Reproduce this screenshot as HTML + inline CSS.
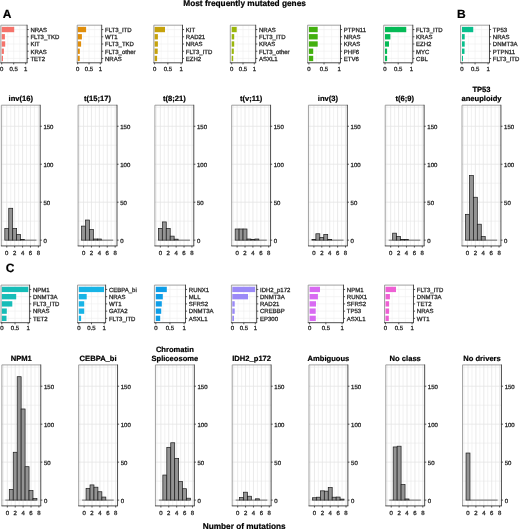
<!DOCTYPE html>
<html><head><meta charset="utf-8"><title>Most frequently mutated genes</title>
<style>html,body{margin:0;padding:0;background:#fff;width:520px;height:529px;overflow:hidden}svg{display:block;will-change:transform}text{text-rendering:geometricPrecision}</style>
</head><body>
<svg width="520" height="529" viewBox="0 0 520 529" font-family='"Liberation Sans", sans-serif'>
<rect x="0" y="0" width="520" height="529" fill="#ffffff"/>
<text x="244.6" y="5.7" font-size="8.3" text-anchor="middle" font-weight="bold" fill="#000" stroke="#000" stroke-width="0.2">Most frequently mutated genes</text>
<text x="2.7" y="18.3" font-size="12" text-anchor="start" font-weight="bold" fill="#000" stroke="#000" stroke-width="0.2">A</text>
<text x="456.9" y="18.3" font-size="12" text-anchor="start" font-weight="bold" fill="#000" stroke="#000" stroke-width="0.2">B</text>
<text x="5.7" y="272.1" font-size="12" text-anchor="start" font-weight="bold" fill="#000" stroke="#000" stroke-width="0.2">C</text>
<line x1="7.7" y1="25.2" x2="7.7" y2="62.8" stroke="#EEEEEE" stroke-width="0.4"/>
<line x1="19.7" y1="25.2" x2="19.7" y2="62.8" stroke="#EEEEEE" stroke-width="0.4"/>
<line x1="1.7" y1="25.2" x2="1.7" y2="62.8" stroke="#EEEEEE" stroke-width="0.6"/>
<line x1="13.7" y1="25.2" x2="13.7" y2="62.8" stroke="#EEEEEE" stroke-width="0.6"/>
<line x1="25.7" y1="25.2" x2="25.7" y2="62.8" stroke="#EEEEEE" stroke-width="0.6"/>
<line x1="0.8" y1="29.54" x2="27.1" y2="29.54" stroke="#EEEEEE" stroke-width="0.6"/>
<line x1="0.8" y1="36.77" x2="27.1" y2="36.77" stroke="#EEEEEE" stroke-width="0.6"/>
<line x1="0.8" y1="44" x2="27.1" y2="44" stroke="#EEEEEE" stroke-width="0.6"/>
<line x1="0.8" y1="51.23" x2="27.1" y2="51.23" stroke="#EEEEEE" stroke-width="0.6"/>
<line x1="0.8" y1="58.46" x2="27.1" y2="58.46" stroke="#EEEEEE" stroke-width="0.6"/>
<rect x="1.7" y="26.86" width="12.5" height="5.35" fill="#F5736B"/>
<rect x="1.7" y="34.09" width="3.2" height="5.35" fill="#F5736B"/>
<rect x="1.7" y="41.32" width="3.5" height="5.35" fill="#F5736B"/>
<rect x="1.7" y="48.56" width="2.2" height="5.35" fill="#F5736B"/>
<rect x="1.7" y="55.79" width="1.3" height="5.35" fill="#F5736B"/>
<line x1="0.8" y1="25.2" x2="27.1" y2="25.2" stroke="#8a8a8a" stroke-width="0.8"/>
<line x1="0.8" y1="25.2" x2="0.8" y2="62.8" stroke="#8a8a8a" stroke-width="0.8"/>
<line x1="0.4" y1="62.8" x2="27.5" y2="62.8" stroke="#222222" stroke-width="0.8"/>
<line x1="27.1" y1="24.8" x2="27.1" y2="62.8" stroke="#222222" stroke-width="0.8"/>
<line x1="27.1" y1="29.54" x2="28.7" y2="29.54" stroke="#222222" stroke-width="0.75"/>
<text x="30.4" y="31.84" font-size="6" text-anchor="start" font-weight="normal" fill="#2e2e2e" stroke="#2e2e2e" stroke-width="0.3">NRAS</text>
<line x1="27.1" y1="36.77" x2="28.7" y2="36.77" stroke="#222222" stroke-width="0.75"/>
<text x="30.4" y="39.07" font-size="6" text-anchor="start" font-weight="normal" fill="#2e2e2e" stroke="#2e2e2e" stroke-width="0.3">FLT3_TKD</text>
<line x1="27.1" y1="44" x2="28.7" y2="44" stroke="#222222" stroke-width="0.75"/>
<text x="30.4" y="46.3" font-size="6" text-anchor="start" font-weight="normal" fill="#2e2e2e" stroke="#2e2e2e" stroke-width="0.3">KIT</text>
<line x1="27.1" y1="51.23" x2="28.7" y2="51.23" stroke="#222222" stroke-width="0.75"/>
<text x="30.4" y="53.53" font-size="6" text-anchor="start" font-weight="normal" fill="#2e2e2e" stroke="#2e2e2e" stroke-width="0.3">KRAS</text>
<line x1="27.1" y1="58.46" x2="28.7" y2="58.46" stroke="#222222" stroke-width="0.75"/>
<text x="30.4" y="60.76" font-size="6" text-anchor="start" font-weight="normal" fill="#2e2e2e" stroke="#2e2e2e" stroke-width="0.3">TET2</text>
<line x1="1.7" y1="62.8" x2="1.7" y2="64.4" stroke="#222222" stroke-width="0.75"/>
<text x="1.7" y="70.5" font-size="6" text-anchor="middle" font-weight="normal" fill="#2e2e2e" stroke="#2e2e2e" stroke-width="0.3">0</text>
<line x1="13.7" y1="62.8" x2="13.7" y2="64.4" stroke="#222222" stroke-width="0.75"/>
<text x="13.7" y="70.5" font-size="6" text-anchor="middle" font-weight="normal" fill="#2e2e2e" stroke="#2e2e2e" stroke-width="0.3">0.5</text>
<line x1="25.7" y1="62.8" x2="25.7" y2="64.4" stroke="#222222" stroke-width="0.75"/>
<text x="25.7" y="70.5" font-size="6" text-anchor="middle" font-weight="normal" fill="#2e2e2e" stroke="#2e2e2e" stroke-width="0.3">1</text>
<line x1="83.35" y1="25.2" x2="83.35" y2="62.8" stroke="#EEEEEE" stroke-width="0.4"/>
<line x1="94.65" y1="25.2" x2="94.65" y2="62.8" stroke="#EEEEEE" stroke-width="0.4"/>
<line x1="77.7" y1="25.2" x2="77.7" y2="62.8" stroke="#EEEEEE" stroke-width="0.6"/>
<line x1="89" y1="25.2" x2="89" y2="62.8" stroke="#EEEEEE" stroke-width="0.6"/>
<line x1="100.3" y1="25.2" x2="100.3" y2="62.8" stroke="#EEEEEE" stroke-width="0.6"/>
<line x1="77.2" y1="29.54" x2="101.7" y2="29.54" stroke="#EEEEEE" stroke-width="0.6"/>
<line x1="77.2" y1="36.77" x2="101.7" y2="36.77" stroke="#EEEEEE" stroke-width="0.6"/>
<line x1="77.2" y1="44" x2="101.7" y2="44" stroke="#EEEEEE" stroke-width="0.6"/>
<line x1="77.2" y1="51.23" x2="101.7" y2="51.23" stroke="#EEEEEE" stroke-width="0.6"/>
<line x1="77.2" y1="58.46" x2="101.7" y2="58.46" stroke="#EEEEEE" stroke-width="0.6"/>
<rect x="77.7" y="26.86" width="8.4" height="5.35" fill="#E08E0B"/>
<rect x="77.7" y="34.09" width="4.2" height="5.35" fill="#E08E0B"/>
<rect x="77.7" y="41.32" width="3.4" height="5.35" fill="#E08E0B"/>
<rect x="77.7" y="48.56" width="2.1" height="5.35" fill="#E08E0B"/>
<rect x="77.7" y="55.79" width="2" height="5.35" fill="#E08E0B"/>
<line x1="77.2" y1="25.2" x2="101.7" y2="25.2" stroke="#8a8a8a" stroke-width="0.8"/>
<line x1="77.2" y1="25.2" x2="77.2" y2="62.8" stroke="#8a8a8a" stroke-width="0.8"/>
<line x1="76.8" y1="62.8" x2="102.1" y2="62.8" stroke="#222222" stroke-width="0.8"/>
<line x1="101.7" y1="24.8" x2="101.7" y2="62.8" stroke="#222222" stroke-width="0.8"/>
<line x1="101.7" y1="29.54" x2="103.3" y2="29.54" stroke="#222222" stroke-width="0.75"/>
<text x="105" y="31.84" font-size="6" text-anchor="start" font-weight="normal" fill="#2e2e2e" stroke="#2e2e2e" stroke-width="0.3">FLT3_ITD</text>
<line x1="101.7" y1="36.77" x2="103.3" y2="36.77" stroke="#222222" stroke-width="0.75"/>
<text x="105" y="39.07" font-size="6" text-anchor="start" font-weight="normal" fill="#2e2e2e" stroke="#2e2e2e" stroke-width="0.3">WT1</text>
<line x1="101.7" y1="44" x2="103.3" y2="44" stroke="#222222" stroke-width="0.75"/>
<text x="105" y="46.3" font-size="6" text-anchor="start" font-weight="normal" fill="#2e2e2e" stroke="#2e2e2e" stroke-width="0.3">FLT3_TKD</text>
<line x1="101.7" y1="51.23" x2="103.3" y2="51.23" stroke="#222222" stroke-width="0.75"/>
<text x="105" y="53.53" font-size="6" text-anchor="start" font-weight="normal" fill="#2e2e2e" stroke="#2e2e2e" stroke-width="0.3">FLT3_other</text>
<line x1="101.7" y1="58.46" x2="103.3" y2="58.46" stroke="#222222" stroke-width="0.75"/>
<text x="105" y="60.76" font-size="6" text-anchor="start" font-weight="normal" fill="#2e2e2e" stroke="#2e2e2e" stroke-width="0.3">NRAS</text>
<line x1="77.7" y1="62.8" x2="77.7" y2="64.4" stroke="#222222" stroke-width="0.75"/>
<text x="77.7" y="70.5" font-size="6" text-anchor="middle" font-weight="normal" fill="#2e2e2e" stroke="#2e2e2e" stroke-width="0.3">0</text>
<line x1="89" y1="62.8" x2="89" y2="64.4" stroke="#222222" stroke-width="0.75"/>
<text x="89" y="70.5" font-size="6" text-anchor="middle" font-weight="normal" fill="#2e2e2e" stroke="#2e2e2e" stroke-width="0.3">0.5</text>
<line x1="100.3" y1="62.8" x2="100.3" y2="64.4" stroke="#222222" stroke-width="0.75"/>
<text x="100.3" y="70.5" font-size="6" text-anchor="middle" font-weight="normal" fill="#2e2e2e" stroke="#2e2e2e" stroke-width="0.3">1</text>
<line x1="161.22" y1="25.2" x2="161.22" y2="62.8" stroke="#EEEEEE" stroke-width="0.4"/>
<line x1="174.47" y1="25.2" x2="174.47" y2="62.8" stroke="#EEEEEE" stroke-width="0.4"/>
<line x1="154.6" y1="25.2" x2="154.6" y2="62.8" stroke="#EEEEEE" stroke-width="0.6"/>
<line x1="167.85" y1="25.2" x2="167.85" y2="62.8" stroke="#EEEEEE" stroke-width="0.6"/>
<line x1="181.1" y1="25.2" x2="181.1" y2="62.8" stroke="#EEEEEE" stroke-width="0.6"/>
<line x1="153.8" y1="29.54" x2="182.5" y2="29.54" stroke="#EEEEEE" stroke-width="0.6"/>
<line x1="153.8" y1="36.77" x2="182.5" y2="36.77" stroke="#EEEEEE" stroke-width="0.6"/>
<line x1="153.8" y1="44" x2="182.5" y2="44" stroke="#EEEEEE" stroke-width="0.6"/>
<line x1="153.8" y1="51.23" x2="182.5" y2="51.23" stroke="#EEEEEE" stroke-width="0.6"/>
<line x1="153.8" y1="58.46" x2="182.5" y2="58.46" stroke="#EEEEEE" stroke-width="0.6"/>
<rect x="154.6" y="26.86" width="10.4" height="5.35" fill="#C6A20C"/>
<rect x="154.6" y="34.09" width="3.3" height="5.35" fill="#C6A20C"/>
<rect x="154.6" y="41.32" width="3.3" height="5.35" fill="#C6A20C"/>
<rect x="154.6" y="48.56" width="3.1" height="5.35" fill="#C6A20C"/>
<rect x="154.6" y="55.79" width="2.5" height="5.35" fill="#C6A20C"/>
<line x1="153.8" y1="25.2" x2="182.5" y2="25.2" stroke="#8a8a8a" stroke-width="0.8"/>
<line x1="153.8" y1="25.2" x2="153.8" y2="62.8" stroke="#8a8a8a" stroke-width="0.8"/>
<line x1="153.4" y1="62.8" x2="182.9" y2="62.8" stroke="#222222" stroke-width="0.8"/>
<line x1="182.5" y1="24.8" x2="182.5" y2="62.8" stroke="#222222" stroke-width="0.8"/>
<line x1="182.5" y1="29.54" x2="184.1" y2="29.54" stroke="#222222" stroke-width="0.75"/>
<text x="185.8" y="31.84" font-size="6" text-anchor="start" font-weight="normal" fill="#2e2e2e" stroke="#2e2e2e" stroke-width="0.3">KIT</text>
<line x1="182.5" y1="36.77" x2="184.1" y2="36.77" stroke="#222222" stroke-width="0.75"/>
<text x="185.8" y="39.07" font-size="6" text-anchor="start" font-weight="normal" fill="#2e2e2e" stroke="#2e2e2e" stroke-width="0.3">RAD21</text>
<line x1="182.5" y1="44" x2="184.1" y2="44" stroke="#222222" stroke-width="0.75"/>
<text x="185.8" y="46.3" font-size="6" text-anchor="start" font-weight="normal" fill="#2e2e2e" stroke="#2e2e2e" stroke-width="0.3">NRAS</text>
<line x1="182.5" y1="51.23" x2="184.1" y2="51.23" stroke="#222222" stroke-width="0.75"/>
<text x="185.8" y="53.53" font-size="6" text-anchor="start" font-weight="normal" fill="#2e2e2e" stroke="#2e2e2e" stroke-width="0.3">FLT3_ITD</text>
<line x1="182.5" y1="58.46" x2="184.1" y2="58.46" stroke="#222222" stroke-width="0.75"/>
<text x="185.8" y="60.76" font-size="6" text-anchor="start" font-weight="normal" fill="#2e2e2e" stroke="#2e2e2e" stroke-width="0.3">EZH2</text>
<line x1="154.6" y1="62.8" x2="154.6" y2="64.4" stroke="#222222" stroke-width="0.75"/>
<text x="154.6" y="70.5" font-size="6" text-anchor="middle" font-weight="normal" fill="#2e2e2e" stroke="#2e2e2e" stroke-width="0.3">0</text>
<line x1="167.85" y1="62.8" x2="167.85" y2="64.4" stroke="#222222" stroke-width="0.75"/>
<text x="167.85" y="70.5" font-size="6" text-anchor="middle" font-weight="normal" fill="#2e2e2e" stroke="#2e2e2e" stroke-width="0.3">0.5</text>
<line x1="181.1" y1="62.8" x2="181.1" y2="64.4" stroke="#222222" stroke-width="0.75"/>
<text x="181.1" y="70.5" font-size="6" text-anchor="middle" font-weight="normal" fill="#2e2e2e" stroke="#2e2e2e" stroke-width="0.3">1</text>
<line x1="237.35" y1="25.2" x2="237.35" y2="62.8" stroke="#EEEEEE" stroke-width="0.4"/>
<line x1="248.65" y1="25.2" x2="248.65" y2="62.8" stroke="#EEEEEE" stroke-width="0.4"/>
<line x1="231.7" y1="25.2" x2="231.7" y2="62.8" stroke="#EEEEEE" stroke-width="0.6"/>
<line x1="243" y1="25.2" x2="243" y2="62.8" stroke="#EEEEEE" stroke-width="0.6"/>
<line x1="254.3" y1="25.2" x2="254.3" y2="62.8" stroke="#EEEEEE" stroke-width="0.6"/>
<line x1="230.3" y1="29.54" x2="255.7" y2="29.54" stroke="#EEEEEE" stroke-width="0.6"/>
<line x1="230.3" y1="36.77" x2="255.7" y2="36.77" stroke="#EEEEEE" stroke-width="0.6"/>
<line x1="230.3" y1="44" x2="255.7" y2="44" stroke="#EEEEEE" stroke-width="0.6"/>
<line x1="230.3" y1="51.23" x2="255.7" y2="51.23" stroke="#EEEEEE" stroke-width="0.6"/>
<line x1="230.3" y1="58.46" x2="255.7" y2="58.46" stroke="#EEEEEE" stroke-width="0.6"/>
<rect x="231.7" y="26.86" width="5" height="5.35" fill="#9AB60A"/>
<rect x="231.7" y="34.09" width="2.5" height="5.35" fill="#9AB60A"/>
<rect x="231.7" y="41.32" width="2.5" height="5.35" fill="#9AB60A"/>
<rect x="231.7" y="48.56" width="2.1" height="5.35" fill="#9AB60A"/>
<rect x="231.7" y="55.79" width="1.5" height="5.35" fill="#9AB60A"/>
<line x1="230.3" y1="25.2" x2="255.7" y2="25.2" stroke="#8a8a8a" stroke-width="0.8"/>
<line x1="230.3" y1="25.2" x2="230.3" y2="62.8" stroke="#8a8a8a" stroke-width="0.8"/>
<line x1="229.9" y1="62.8" x2="256.1" y2="62.8" stroke="#222222" stroke-width="0.8"/>
<line x1="255.7" y1="24.8" x2="255.7" y2="62.8" stroke="#222222" stroke-width="0.8"/>
<line x1="255.7" y1="29.54" x2="257.3" y2="29.54" stroke="#222222" stroke-width="0.75"/>
<text x="259" y="31.84" font-size="6" text-anchor="start" font-weight="normal" fill="#2e2e2e" stroke="#2e2e2e" stroke-width="0.3">NRAS</text>
<line x1="255.7" y1="36.77" x2="257.3" y2="36.77" stroke="#222222" stroke-width="0.75"/>
<text x="259" y="39.07" font-size="6" text-anchor="start" font-weight="normal" fill="#2e2e2e" stroke="#2e2e2e" stroke-width="0.3">FLT3_ITD</text>
<line x1="255.7" y1="44" x2="257.3" y2="44" stroke="#222222" stroke-width="0.75"/>
<text x="259" y="46.3" font-size="6" text-anchor="start" font-weight="normal" fill="#2e2e2e" stroke="#2e2e2e" stroke-width="0.3">KRAS</text>
<line x1="255.7" y1="51.23" x2="257.3" y2="51.23" stroke="#222222" stroke-width="0.75"/>
<text x="259" y="53.53" font-size="6" text-anchor="start" font-weight="normal" fill="#2e2e2e" stroke="#2e2e2e" stroke-width="0.3">FLT3_other</text>
<line x1="255.7" y1="58.46" x2="257.3" y2="58.46" stroke="#222222" stroke-width="0.75"/>
<text x="259" y="60.76" font-size="6" text-anchor="start" font-weight="normal" fill="#2e2e2e" stroke="#2e2e2e" stroke-width="0.3">ASXL1</text>
<line x1="231.7" y1="62.8" x2="231.7" y2="64.4" stroke="#222222" stroke-width="0.75"/>
<text x="231.7" y="70.5" font-size="6" text-anchor="middle" font-weight="normal" fill="#2e2e2e" stroke="#2e2e2e" stroke-width="0.3">0</text>
<line x1="243" y1="62.8" x2="243" y2="64.4" stroke="#222222" stroke-width="0.75"/>
<text x="243" y="70.5" font-size="6" text-anchor="middle" font-weight="normal" fill="#2e2e2e" stroke="#2e2e2e" stroke-width="0.3">0.5</text>
<line x1="254.3" y1="62.8" x2="254.3" y2="64.4" stroke="#222222" stroke-width="0.75"/>
<text x="254.3" y="70.5" font-size="6" text-anchor="middle" font-weight="normal" fill="#2e2e2e" stroke="#2e2e2e" stroke-width="0.3">1</text>
<line x1="316.45" y1="25.2" x2="316.45" y2="62.8" stroke="#EEEEEE" stroke-width="0.4"/>
<line x1="331.55" y1="25.2" x2="331.55" y2="62.8" stroke="#EEEEEE" stroke-width="0.4"/>
<line x1="308.9" y1="25.2" x2="308.9" y2="62.8" stroke="#EEEEEE" stroke-width="0.6"/>
<line x1="324" y1="25.2" x2="324" y2="62.8" stroke="#EEEEEE" stroke-width="0.6"/>
<line x1="339.1" y1="25.2" x2="339.1" y2="62.8" stroke="#EEEEEE" stroke-width="0.6"/>
<line x1="307.6" y1="29.54" x2="340.5" y2="29.54" stroke="#EEEEEE" stroke-width="0.6"/>
<line x1="307.6" y1="36.77" x2="340.5" y2="36.77" stroke="#EEEEEE" stroke-width="0.6"/>
<line x1="307.6" y1="44" x2="340.5" y2="44" stroke="#EEEEEE" stroke-width="0.6"/>
<line x1="307.6" y1="51.23" x2="340.5" y2="51.23" stroke="#EEEEEE" stroke-width="0.6"/>
<line x1="307.6" y1="58.46" x2="340.5" y2="58.46" stroke="#EEEEEE" stroke-width="0.6"/>
<rect x="308.9" y="26.86" width="8.8" height="5.35" fill="#42B00E"/>
<rect x="308.9" y="34.09" width="8.8" height="5.35" fill="#42B00E"/>
<rect x="308.9" y="41.32" width="8.8" height="5.35" fill="#42B00E"/>
<rect x="308.9" y="48.56" width="4.3" height="5.35" fill="#42B00E"/>
<rect x="308.9" y="55.79" width="4.3" height="5.35" fill="#42B00E"/>
<line x1="307.6" y1="25.2" x2="340.5" y2="25.2" stroke="#8a8a8a" stroke-width="0.8"/>
<line x1="307.6" y1="25.2" x2="307.6" y2="62.8" stroke="#8a8a8a" stroke-width="0.8"/>
<line x1="307.2" y1="62.8" x2="340.9" y2="62.8" stroke="#222222" stroke-width="0.8"/>
<line x1="340.5" y1="24.8" x2="340.5" y2="62.8" stroke="#222222" stroke-width="0.8"/>
<line x1="340.5" y1="29.54" x2="342.1" y2="29.54" stroke="#222222" stroke-width="0.75"/>
<text x="343.8" y="31.84" font-size="6" text-anchor="start" font-weight="normal" fill="#2e2e2e" stroke="#2e2e2e" stroke-width="0.3">PTPN11</text>
<line x1="340.5" y1="36.77" x2="342.1" y2="36.77" stroke="#222222" stroke-width="0.75"/>
<text x="343.8" y="39.07" font-size="6" text-anchor="start" font-weight="normal" fill="#2e2e2e" stroke="#2e2e2e" stroke-width="0.3">NRAS</text>
<line x1="340.5" y1="44" x2="342.1" y2="44" stroke="#222222" stroke-width="0.75"/>
<text x="343.8" y="46.3" font-size="6" text-anchor="start" font-weight="normal" fill="#2e2e2e" stroke="#2e2e2e" stroke-width="0.3">KRAS</text>
<line x1="340.5" y1="51.23" x2="342.1" y2="51.23" stroke="#222222" stroke-width="0.75"/>
<text x="343.8" y="53.53" font-size="6" text-anchor="start" font-weight="normal" fill="#2e2e2e" stroke="#2e2e2e" stroke-width="0.3">PHF6</text>
<line x1="340.5" y1="58.46" x2="342.1" y2="58.46" stroke="#222222" stroke-width="0.75"/>
<text x="343.8" y="60.76" font-size="6" text-anchor="start" font-weight="normal" fill="#2e2e2e" stroke="#2e2e2e" stroke-width="0.3">ETV6</text>
<line x1="308.9" y1="62.8" x2="308.9" y2="64.4" stroke="#222222" stroke-width="0.75"/>
<text x="308.9" y="70.5" font-size="6" text-anchor="middle" font-weight="normal" fill="#2e2e2e" stroke="#2e2e2e" stroke-width="0.3">0</text>
<line x1="324" y1="62.8" x2="324" y2="64.4" stroke="#222222" stroke-width="0.75"/>
<text x="324" y="70.5" font-size="6" text-anchor="middle" font-weight="normal" fill="#2e2e2e" stroke="#2e2e2e" stroke-width="0.3">0.5</text>
<line x1="339.1" y1="62.8" x2="339.1" y2="64.4" stroke="#222222" stroke-width="0.75"/>
<text x="339.1" y="70.5" font-size="6" text-anchor="middle" font-weight="normal" fill="#2e2e2e" stroke="#2e2e2e" stroke-width="0.3">1</text>
<line x1="391.6" y1="25.2" x2="391.6" y2="62.8" stroke="#EEEEEE" stroke-width="0.4"/>
<line x1="404.8" y1="25.2" x2="404.8" y2="62.8" stroke="#EEEEEE" stroke-width="0.4"/>
<line x1="385" y1="25.2" x2="385" y2="62.8" stroke="#EEEEEE" stroke-width="0.6"/>
<line x1="398.2" y1="25.2" x2="398.2" y2="62.8" stroke="#EEEEEE" stroke-width="0.6"/>
<line x1="411.4" y1="25.2" x2="411.4" y2="62.8" stroke="#EEEEEE" stroke-width="0.6"/>
<line x1="383.7" y1="29.54" x2="412.8" y2="29.54" stroke="#EEEEEE" stroke-width="0.6"/>
<line x1="383.7" y1="36.77" x2="412.8" y2="36.77" stroke="#EEEEEE" stroke-width="0.6"/>
<line x1="383.7" y1="44" x2="412.8" y2="44" stroke="#EEEEEE" stroke-width="0.6"/>
<line x1="383.7" y1="51.23" x2="412.8" y2="51.23" stroke="#EEEEEE" stroke-width="0.6"/>
<line x1="383.7" y1="58.46" x2="412.8" y2="58.46" stroke="#EEEEEE" stroke-width="0.6"/>
<rect x="385" y="26.86" width="21.25" height="5.35" fill="#05BA56"/>
<rect x="385" y="34.09" width="5.4" height="5.35" fill="#05BA56"/>
<rect x="385" y="41.32" width="4" height="5.35" fill="#05BA56"/>
<rect x="385" y="48.56" width="2.1" height="5.35" fill="#05BA56"/>
<rect x="385" y="55.79" width="2.1" height="5.35" fill="#05BA56"/>
<line x1="383.7" y1="25.2" x2="412.8" y2="25.2" stroke="#8a8a8a" stroke-width="0.8"/>
<line x1="383.7" y1="25.2" x2="383.7" y2="62.8" stroke="#8a8a8a" stroke-width="0.8"/>
<line x1="383.3" y1="62.8" x2="413.2" y2="62.8" stroke="#222222" stroke-width="0.8"/>
<line x1="412.8" y1="24.8" x2="412.8" y2="62.8" stroke="#222222" stroke-width="0.8"/>
<line x1="412.8" y1="29.54" x2="414.4" y2="29.54" stroke="#222222" stroke-width="0.75"/>
<text x="416.1" y="31.84" font-size="6" text-anchor="start" font-weight="normal" fill="#2e2e2e" stroke="#2e2e2e" stroke-width="0.3">FLT3_ITD</text>
<line x1="412.8" y1="36.77" x2="414.4" y2="36.77" stroke="#222222" stroke-width="0.75"/>
<text x="416.1" y="39.07" font-size="6" text-anchor="start" font-weight="normal" fill="#2e2e2e" stroke="#2e2e2e" stroke-width="0.3">KRAS</text>
<line x1="412.8" y1="44" x2="414.4" y2="44" stroke="#222222" stroke-width="0.75"/>
<text x="416.1" y="46.3" font-size="6" text-anchor="start" font-weight="normal" fill="#2e2e2e" stroke="#2e2e2e" stroke-width="0.3">EZH2</text>
<line x1="412.8" y1="51.23" x2="414.4" y2="51.23" stroke="#222222" stroke-width="0.75"/>
<text x="416.1" y="53.53" font-size="6" text-anchor="start" font-weight="normal" fill="#2e2e2e" stroke="#2e2e2e" stroke-width="0.3">MYC</text>
<line x1="412.8" y1="58.46" x2="414.4" y2="58.46" stroke="#222222" stroke-width="0.75"/>
<text x="416.1" y="60.76" font-size="6" text-anchor="start" font-weight="normal" fill="#2e2e2e" stroke="#2e2e2e" stroke-width="0.3">CBL</text>
<line x1="385" y1="62.8" x2="385" y2="64.4" stroke="#222222" stroke-width="0.75"/>
<text x="385" y="70.5" font-size="6" text-anchor="middle" font-weight="normal" fill="#2e2e2e" stroke="#2e2e2e" stroke-width="0.3">0</text>
<line x1="398.2" y1="62.8" x2="398.2" y2="64.4" stroke="#222222" stroke-width="0.75"/>
<text x="398.2" y="70.5" font-size="6" text-anchor="middle" font-weight="normal" fill="#2e2e2e" stroke="#2e2e2e" stroke-width="0.3">0.5</text>
<line x1="411.4" y1="62.8" x2="411.4" y2="64.4" stroke="#222222" stroke-width="0.75"/>
<text x="411.4" y="70.5" font-size="6" text-anchor="middle" font-weight="normal" fill="#2e2e2e" stroke="#2e2e2e" stroke-width="0.3">1</text>
<line x1="468.52" y1="25.2" x2="468.52" y2="62.8" stroke="#EEEEEE" stroke-width="0.4"/>
<line x1="481.58" y1="25.2" x2="481.58" y2="62.8" stroke="#EEEEEE" stroke-width="0.4"/>
<line x1="462" y1="25.2" x2="462" y2="62.8" stroke="#EEEEEE" stroke-width="0.6"/>
<line x1="475.05" y1="25.2" x2="475.05" y2="62.8" stroke="#EEEEEE" stroke-width="0.6"/>
<line x1="488.1" y1="25.2" x2="488.1" y2="62.8" stroke="#EEEEEE" stroke-width="0.6"/>
<line x1="460.6" y1="29.54" x2="489.5" y2="29.54" stroke="#EEEEEE" stroke-width="0.6"/>
<line x1="460.6" y1="36.77" x2="489.5" y2="36.77" stroke="#EEEEEE" stroke-width="0.6"/>
<line x1="460.6" y1="44" x2="489.5" y2="44" stroke="#EEEEEE" stroke-width="0.6"/>
<line x1="460.6" y1="51.23" x2="489.5" y2="51.23" stroke="#EEEEEE" stroke-width="0.6"/>
<line x1="460.6" y1="58.46" x2="489.5" y2="58.46" stroke="#EEEEEE" stroke-width="0.6"/>
<rect x="462" y="26.86" width="11.25" height="5.35" fill="#08BF8C"/>
<rect x="462" y="34.09" width="2.7" height="5.35" fill="#08BF8C"/>
<rect x="462" y="41.32" width="2.7" height="5.35" fill="#08BF8C"/>
<rect x="462" y="48.56" width="2.5" height="5.35" fill="#08BF8C"/>
<rect x="462" y="55.79" width="1" height="5.35" fill="#08BF8C"/>
<line x1="460.6" y1="25.2" x2="489.5" y2="25.2" stroke="#8a8a8a" stroke-width="0.8"/>
<line x1="460.6" y1="25.2" x2="460.6" y2="62.8" stroke="#8a8a8a" stroke-width="0.8"/>
<line x1="460.2" y1="62.8" x2="489.9" y2="62.8" stroke="#222222" stroke-width="0.8"/>
<line x1="489.5" y1="24.8" x2="489.5" y2="62.8" stroke="#222222" stroke-width="0.8"/>
<line x1="489.5" y1="29.54" x2="491.1" y2="29.54" stroke="#222222" stroke-width="0.75"/>
<text x="492.8" y="31.84" font-size="6" text-anchor="start" font-weight="normal" fill="#2e2e2e" stroke="#2e2e2e" stroke-width="0.3">TP53</text>
<line x1="489.5" y1="36.77" x2="491.1" y2="36.77" stroke="#222222" stroke-width="0.75"/>
<text x="492.8" y="39.07" font-size="6" text-anchor="start" font-weight="normal" fill="#2e2e2e" stroke="#2e2e2e" stroke-width="0.3">NRAS</text>
<line x1="489.5" y1="44" x2="491.1" y2="44" stroke="#222222" stroke-width="0.75"/>
<text x="492.8" y="46.3" font-size="6" text-anchor="start" font-weight="normal" fill="#2e2e2e" stroke="#2e2e2e" stroke-width="0.3">DNMT3A</text>
<line x1="489.5" y1="51.23" x2="491.1" y2="51.23" stroke="#222222" stroke-width="0.75"/>
<text x="492.8" y="53.53" font-size="6" text-anchor="start" font-weight="normal" fill="#2e2e2e" stroke="#2e2e2e" stroke-width="0.3">PTPN11</text>
<line x1="489.5" y1="58.46" x2="491.1" y2="58.46" stroke="#222222" stroke-width="0.75"/>
<text x="492.8" y="60.76" font-size="6" text-anchor="start" font-weight="normal" fill="#2e2e2e" stroke="#2e2e2e" stroke-width="0.3">FLT3_ITD</text>
<line x1="462" y1="62.8" x2="462" y2="64.4" stroke="#222222" stroke-width="0.75"/>
<text x="462" y="70.5" font-size="6" text-anchor="middle" font-weight="normal" fill="#2e2e2e" stroke="#2e2e2e" stroke-width="0.3">0</text>
<line x1="475.05" y1="62.8" x2="475.05" y2="64.4" stroke="#222222" stroke-width="0.75"/>
<text x="475.05" y="70.5" font-size="6" text-anchor="middle" font-weight="normal" fill="#2e2e2e" stroke="#2e2e2e" stroke-width="0.3">0.5</text>
<line x1="488.1" y1="62.8" x2="488.1" y2="64.4" stroke="#222222" stroke-width="0.75"/>
<text x="488.1" y="70.5" font-size="6" text-anchor="middle" font-weight="normal" fill="#2e2e2e" stroke="#2e2e2e" stroke-width="0.3">1</text>
<line x1="8.4" y1="285.1" x2="8.4" y2="322.7" stroke="#EEEEEE" stroke-width="0.4"/>
<line x1="21.6" y1="285.1" x2="21.6" y2="322.7" stroke="#EEEEEE" stroke-width="0.4"/>
<line x1="1.8" y1="285.1" x2="1.8" y2="322.7" stroke="#EEEEEE" stroke-width="0.6"/>
<line x1="15" y1="285.1" x2="15" y2="322.7" stroke="#EEEEEE" stroke-width="0.6"/>
<line x1="28.2" y1="285.1" x2="28.2" y2="322.7" stroke="#EEEEEE" stroke-width="0.6"/>
<line x1="1" y1="289.44" x2="29.6" y2="289.44" stroke="#EEEEEE" stroke-width="0.6"/>
<line x1="1" y1="296.67" x2="29.6" y2="296.67" stroke="#EEEEEE" stroke-width="0.6"/>
<line x1="1" y1="303.9" x2="29.6" y2="303.9" stroke="#EEEEEE" stroke-width="0.6"/>
<line x1="1" y1="311.13" x2="29.6" y2="311.13" stroke="#EEEEEE" stroke-width="0.6"/>
<line x1="1" y1="318.36" x2="29.6" y2="318.36" stroke="#EEEEEE" stroke-width="0.6"/>
<rect x="1.8" y="286.76" width="26.5" height="5.35" fill="#16BDB8"/>
<rect x="1.8" y="293.99" width="14.4" height="5.35" fill="#16BDB8"/>
<rect x="1.8" y="301.22" width="10.5" height="5.35" fill="#16BDB8"/>
<rect x="1.8" y="308.46" width="5" height="5.35" fill="#16BDB8"/>
<rect x="1.8" y="315.69" width="4.7" height="5.35" fill="#16BDB8"/>
<line x1="1" y1="285.1" x2="29.6" y2="285.1" stroke="#8a8a8a" stroke-width="0.8"/>
<line x1="1" y1="285.1" x2="1" y2="322.7" stroke="#8a8a8a" stroke-width="0.8"/>
<line x1="0.6" y1="322.7" x2="30" y2="322.7" stroke="#222222" stroke-width="0.8"/>
<line x1="29.6" y1="284.7" x2="29.6" y2="322.7" stroke="#222222" stroke-width="0.8"/>
<line x1="29.6" y1="289.44" x2="31.2" y2="289.44" stroke="#222222" stroke-width="0.75"/>
<text x="32.9" y="291.74" font-size="6" text-anchor="start" font-weight="normal" fill="#2e2e2e" stroke="#2e2e2e" stroke-width="0.3">NPM1</text>
<line x1="29.6" y1="296.67" x2="31.2" y2="296.67" stroke="#222222" stroke-width="0.75"/>
<text x="32.9" y="298.97" font-size="6" text-anchor="start" font-weight="normal" fill="#2e2e2e" stroke="#2e2e2e" stroke-width="0.3">DNMT3A</text>
<line x1="29.6" y1="303.9" x2="31.2" y2="303.9" stroke="#222222" stroke-width="0.75"/>
<text x="32.9" y="306.2" font-size="6" text-anchor="start" font-weight="normal" fill="#2e2e2e" stroke="#2e2e2e" stroke-width="0.3">FLT3_ITD</text>
<line x1="29.6" y1="311.13" x2="31.2" y2="311.13" stroke="#222222" stroke-width="0.75"/>
<text x="32.9" y="313.43" font-size="6" text-anchor="start" font-weight="normal" fill="#2e2e2e" stroke="#2e2e2e" stroke-width="0.3">NRAS</text>
<line x1="29.6" y1="318.36" x2="31.2" y2="318.36" stroke="#222222" stroke-width="0.75"/>
<text x="32.9" y="320.66" font-size="6" text-anchor="start" font-weight="normal" fill="#2e2e2e" stroke="#2e2e2e" stroke-width="0.3">TET2</text>
<line x1="1.8" y1="322.7" x2="1.8" y2="324.3" stroke="#222222" stroke-width="0.75"/>
<text x="1.8" y="330.4" font-size="6" text-anchor="middle" font-weight="normal" fill="#2e2e2e" stroke="#2e2e2e" stroke-width="0.3">0</text>
<line x1="15" y1="322.7" x2="15" y2="324.3" stroke="#222222" stroke-width="0.75"/>
<text x="15" y="330.4" font-size="6" text-anchor="middle" font-weight="normal" fill="#2e2e2e" stroke="#2e2e2e" stroke-width="0.3">0.5</text>
<line x1="28.2" y1="322.7" x2="28.2" y2="324.3" stroke="#222222" stroke-width="0.75"/>
<text x="28.2" y="330.4" font-size="6" text-anchor="middle" font-weight="normal" fill="#2e2e2e" stroke="#2e2e2e" stroke-width="0.3">1</text>
<line x1="85.15" y1="285.1" x2="85.15" y2="322.7" stroke="#EEEEEE" stroke-width="0.4"/>
<line x1="97.85" y1="285.1" x2="97.85" y2="322.7" stroke="#EEEEEE" stroke-width="0.4"/>
<line x1="78.8" y1="285.1" x2="78.8" y2="322.7" stroke="#EEEEEE" stroke-width="0.6"/>
<line x1="91.5" y1="285.1" x2="91.5" y2="322.7" stroke="#EEEEEE" stroke-width="0.6"/>
<line x1="104.2" y1="285.1" x2="104.2" y2="322.7" stroke="#EEEEEE" stroke-width="0.6"/>
<line x1="77.5" y1="289.44" x2="105.6" y2="289.44" stroke="#EEEEEE" stroke-width="0.6"/>
<line x1="77.5" y1="296.67" x2="105.6" y2="296.67" stroke="#EEEEEE" stroke-width="0.6"/>
<line x1="77.5" y1="303.9" x2="105.6" y2="303.9" stroke="#EEEEEE" stroke-width="0.6"/>
<line x1="77.5" y1="311.13" x2="105.6" y2="311.13" stroke="#EEEEEE" stroke-width="0.6"/>
<line x1="77.5" y1="318.36" x2="105.6" y2="318.36" stroke="#EEEEEE" stroke-width="0.6"/>
<rect x="78.8" y="286.76" width="25.2" height="5.35" fill="#18B4E6"/>
<rect x="78.8" y="293.99" width="7.9" height="5.35" fill="#18B4E6"/>
<rect x="78.8" y="301.22" width="5.4" height="5.35" fill="#18B4E6"/>
<rect x="78.8" y="308.46" width="5.4" height="5.35" fill="#18B4E6"/>
<rect x="78.8" y="315.69" width="2.3" height="5.35" fill="#18B4E6"/>
<line x1="77.5" y1="285.1" x2="105.6" y2="285.1" stroke="#8a8a8a" stroke-width="0.8"/>
<line x1="77.5" y1="285.1" x2="77.5" y2="322.7" stroke="#8a8a8a" stroke-width="0.8"/>
<line x1="77.1" y1="322.7" x2="106" y2="322.7" stroke="#222222" stroke-width="0.8"/>
<line x1="105.6" y1="284.7" x2="105.6" y2="322.7" stroke="#222222" stroke-width="0.8"/>
<line x1="105.6" y1="289.44" x2="107.2" y2="289.44" stroke="#222222" stroke-width="0.75"/>
<text x="108.9" y="291.74" font-size="6" text-anchor="start" font-weight="normal" fill="#2e2e2e" stroke="#2e2e2e" stroke-width="0.3">CEBPA_bi</text>
<line x1="105.6" y1="296.67" x2="107.2" y2="296.67" stroke="#222222" stroke-width="0.75"/>
<text x="108.9" y="298.97" font-size="6" text-anchor="start" font-weight="normal" fill="#2e2e2e" stroke="#2e2e2e" stroke-width="0.3">NRAS</text>
<line x1="105.6" y1="303.9" x2="107.2" y2="303.9" stroke="#222222" stroke-width="0.75"/>
<text x="108.9" y="306.2" font-size="6" text-anchor="start" font-weight="normal" fill="#2e2e2e" stroke="#2e2e2e" stroke-width="0.3">WT1</text>
<line x1="105.6" y1="311.13" x2="107.2" y2="311.13" stroke="#222222" stroke-width="0.75"/>
<text x="108.9" y="313.43" font-size="6" text-anchor="start" font-weight="normal" fill="#2e2e2e" stroke="#2e2e2e" stroke-width="0.3">GATA2</text>
<line x1="105.6" y1="318.36" x2="107.2" y2="318.36" stroke="#222222" stroke-width="0.75"/>
<text x="108.9" y="320.66" font-size="6" text-anchor="start" font-weight="normal" fill="#2e2e2e" stroke="#2e2e2e" stroke-width="0.3">FLT3_ITD</text>
<line x1="78.8" y1="322.7" x2="78.8" y2="324.3" stroke="#222222" stroke-width="0.75"/>
<text x="78.8" y="330.4" font-size="6" text-anchor="middle" font-weight="normal" fill="#2e2e2e" stroke="#2e2e2e" stroke-width="0.3">0</text>
<line x1="91.5" y1="322.7" x2="91.5" y2="324.3" stroke="#222222" stroke-width="0.75"/>
<text x="91.5" y="330.4" font-size="6" text-anchor="middle" font-weight="normal" fill="#2e2e2e" stroke="#2e2e2e" stroke-width="0.3">0.5</text>
<line x1="104.2" y1="322.7" x2="104.2" y2="324.3" stroke="#222222" stroke-width="0.75"/>
<text x="104.2" y="330.4" font-size="6" text-anchor="middle" font-weight="normal" fill="#2e2e2e" stroke="#2e2e2e" stroke-width="0.3">1</text>
<line x1="162.88" y1="285.1" x2="162.88" y2="322.7" stroke="#EEEEEE" stroke-width="0.4"/>
<line x1="177.03" y1="285.1" x2="177.03" y2="322.7" stroke="#EEEEEE" stroke-width="0.4"/>
<line x1="155.8" y1="285.1" x2="155.8" y2="322.7" stroke="#EEEEEE" stroke-width="0.6"/>
<line x1="169.95" y1="285.1" x2="169.95" y2="322.7" stroke="#EEEEEE" stroke-width="0.6"/>
<line x1="184.1" y1="285.1" x2="184.1" y2="322.7" stroke="#EEEEEE" stroke-width="0.6"/>
<line x1="154.4" y1="289.44" x2="185.5" y2="289.44" stroke="#EEEEEE" stroke-width="0.6"/>
<line x1="154.4" y1="296.67" x2="185.5" y2="296.67" stroke="#EEEEEE" stroke-width="0.6"/>
<line x1="154.4" y1="303.9" x2="185.5" y2="303.9" stroke="#EEEEEE" stroke-width="0.6"/>
<line x1="154.4" y1="311.13" x2="185.5" y2="311.13" stroke="#EEEEEE" stroke-width="0.6"/>
<line x1="154.4" y1="318.36" x2="185.5" y2="318.36" stroke="#EEEEEE" stroke-width="0.6"/>
<rect x="155.8" y="286.76" width="11" height="5.35" fill="#0E9EE8"/>
<rect x="155.8" y="293.99" width="7" height="5.35" fill="#0E9EE8"/>
<rect x="155.8" y="301.22" width="6" height="5.35" fill="#0E9EE8"/>
<rect x="155.8" y="308.46" width="5.4" height="5.35" fill="#0E9EE8"/>
<rect x="155.8" y="315.69" width="4.4" height="5.35" fill="#0E9EE8"/>
<line x1="154.4" y1="285.1" x2="185.5" y2="285.1" stroke="#8a8a8a" stroke-width="0.8"/>
<line x1="154.4" y1="285.1" x2="154.4" y2="322.7" stroke="#8a8a8a" stroke-width="0.8"/>
<line x1="154" y1="322.7" x2="185.9" y2="322.7" stroke="#222222" stroke-width="0.8"/>
<line x1="185.5" y1="284.7" x2="185.5" y2="322.7" stroke="#222222" stroke-width="0.8"/>
<line x1="185.5" y1="289.44" x2="187.1" y2="289.44" stroke="#222222" stroke-width="0.75"/>
<text x="188.8" y="291.74" font-size="6" text-anchor="start" font-weight="normal" fill="#2e2e2e" stroke="#2e2e2e" stroke-width="0.3">RUNX1</text>
<line x1="185.5" y1="296.67" x2="187.1" y2="296.67" stroke="#222222" stroke-width="0.75"/>
<text x="188.8" y="298.97" font-size="6" text-anchor="start" font-weight="normal" fill="#2e2e2e" stroke="#2e2e2e" stroke-width="0.3">MLL</text>
<line x1="185.5" y1="303.9" x2="187.1" y2="303.9" stroke="#222222" stroke-width="0.75"/>
<text x="188.8" y="306.2" font-size="6" text-anchor="start" font-weight="normal" fill="#2e2e2e" stroke="#2e2e2e" stroke-width="0.3">SFRS2</text>
<line x1="185.5" y1="311.13" x2="187.1" y2="311.13" stroke="#222222" stroke-width="0.75"/>
<text x="188.8" y="313.43" font-size="6" text-anchor="start" font-weight="normal" fill="#2e2e2e" stroke="#2e2e2e" stroke-width="0.3">DNMT3A</text>
<line x1="185.5" y1="318.36" x2="187.1" y2="318.36" stroke="#222222" stroke-width="0.75"/>
<text x="188.8" y="320.66" font-size="6" text-anchor="start" font-weight="normal" fill="#2e2e2e" stroke="#2e2e2e" stroke-width="0.3">ASXL1</text>
<line x1="155.8" y1="322.7" x2="155.8" y2="324.3" stroke="#222222" stroke-width="0.75"/>
<text x="155.8" y="330.4" font-size="6" text-anchor="middle" font-weight="normal" fill="#2e2e2e" stroke="#2e2e2e" stroke-width="0.3">0</text>
<line x1="169.95" y1="322.7" x2="169.95" y2="324.3" stroke="#222222" stroke-width="0.75"/>
<text x="169.95" y="330.4" font-size="6" text-anchor="middle" font-weight="normal" fill="#2e2e2e" stroke="#2e2e2e" stroke-width="0.3">0.5</text>
<line x1="184.1" y1="322.7" x2="184.1" y2="324.3" stroke="#222222" stroke-width="0.75"/>
<text x="184.1" y="330.4" font-size="6" text-anchor="middle" font-weight="normal" fill="#2e2e2e" stroke="#2e2e2e" stroke-width="0.3">1</text>
<line x1="238.05" y1="285.1" x2="238.05" y2="322.7" stroke="#EEEEEE" stroke-width="0.4"/>
<line x1="249.55" y1="285.1" x2="249.55" y2="322.7" stroke="#EEEEEE" stroke-width="0.4"/>
<line x1="232.3" y1="285.1" x2="232.3" y2="322.7" stroke="#EEEEEE" stroke-width="0.6"/>
<line x1="243.8" y1="285.1" x2="243.8" y2="322.7" stroke="#EEEEEE" stroke-width="0.6"/>
<line x1="255.3" y1="285.1" x2="255.3" y2="322.7" stroke="#EEEEEE" stroke-width="0.6"/>
<line x1="231.4" y1="289.44" x2="256.7" y2="289.44" stroke="#EEEEEE" stroke-width="0.6"/>
<line x1="231.4" y1="296.67" x2="256.7" y2="296.67" stroke="#EEEEEE" stroke-width="0.6"/>
<line x1="231.4" y1="303.9" x2="256.7" y2="303.9" stroke="#EEEEEE" stroke-width="0.6"/>
<line x1="231.4" y1="311.13" x2="256.7" y2="311.13" stroke="#EEEEEE" stroke-width="0.6"/>
<line x1="231.4" y1="318.36" x2="256.7" y2="318.36" stroke="#EEEEEE" stroke-width="0.6"/>
<rect x="232.3" y="286.76" width="22.8" height="5.35" fill="#9B8AF7"/>
<rect x="232.3" y="293.99" width="15.7" height="5.35" fill="#9B8AF7"/>
<rect x="232.3" y="301.22" width="2.4" height="5.35" fill="#9B8AF7"/>
<rect x="232.3" y="308.46" width="2.4" height="5.35" fill="#9B8AF7"/>
<rect x="232.3" y="315.69" width="1.7" height="5.35" fill="#9B8AF7"/>
<line x1="231.4" y1="285.1" x2="256.7" y2="285.1" stroke="#8a8a8a" stroke-width="0.8"/>
<line x1="231.4" y1="285.1" x2="231.4" y2="322.7" stroke="#8a8a8a" stroke-width="0.8"/>
<line x1="231" y1="322.7" x2="257.1" y2="322.7" stroke="#222222" stroke-width="0.8"/>
<line x1="256.7" y1="284.7" x2="256.7" y2="322.7" stroke="#222222" stroke-width="0.8"/>
<line x1="256.7" y1="289.44" x2="258.3" y2="289.44" stroke="#222222" stroke-width="0.75"/>
<text x="260" y="291.74" font-size="6" text-anchor="start" font-weight="normal" fill="#2e2e2e" stroke="#2e2e2e" stroke-width="0.3">IDH2_p172</text>
<line x1="256.7" y1="296.67" x2="258.3" y2="296.67" stroke="#222222" stroke-width="0.75"/>
<text x="260" y="298.97" font-size="6" text-anchor="start" font-weight="normal" fill="#2e2e2e" stroke="#2e2e2e" stroke-width="0.3">DNMT3A</text>
<line x1="256.7" y1="303.9" x2="258.3" y2="303.9" stroke="#222222" stroke-width="0.75"/>
<text x="260" y="306.2" font-size="6" text-anchor="start" font-weight="normal" fill="#2e2e2e" stroke="#2e2e2e" stroke-width="0.3">RAD21</text>
<line x1="256.7" y1="311.13" x2="258.3" y2="311.13" stroke="#222222" stroke-width="0.75"/>
<text x="260" y="313.43" font-size="6" text-anchor="start" font-weight="normal" fill="#2e2e2e" stroke="#2e2e2e" stroke-width="0.3">CREBBP</text>
<line x1="256.7" y1="318.36" x2="258.3" y2="318.36" stroke="#222222" stroke-width="0.75"/>
<text x="260" y="320.66" font-size="6" text-anchor="start" font-weight="normal" fill="#2e2e2e" stroke="#2e2e2e" stroke-width="0.3">EP300</text>
<line x1="232.3" y1="322.7" x2="232.3" y2="324.3" stroke="#222222" stroke-width="0.75"/>
<text x="232.3" y="330.4" font-size="6" text-anchor="middle" font-weight="normal" fill="#2e2e2e" stroke="#2e2e2e" stroke-width="0.3">0</text>
<line x1="243.8" y1="322.7" x2="243.8" y2="324.3" stroke="#222222" stroke-width="0.75"/>
<text x="243.8" y="330.4" font-size="6" text-anchor="middle" font-weight="normal" fill="#2e2e2e" stroke="#2e2e2e" stroke-width="0.3">0.5</text>
<line x1="255.3" y1="322.7" x2="255.3" y2="324.3" stroke="#222222" stroke-width="0.75"/>
<text x="255.3" y="330.4" font-size="6" text-anchor="middle" font-weight="normal" fill="#2e2e2e" stroke="#2e2e2e" stroke-width="0.3">1</text>
<line x1="317.73" y1="285.1" x2="317.73" y2="322.7" stroke="#EEEEEE" stroke-width="0.4"/>
<line x1="333.98" y1="285.1" x2="333.98" y2="322.7" stroke="#EEEEEE" stroke-width="0.4"/>
<line x1="309.6" y1="285.1" x2="309.6" y2="322.7" stroke="#EEEEEE" stroke-width="0.6"/>
<line x1="325.85" y1="285.1" x2="325.85" y2="322.7" stroke="#EEEEEE" stroke-width="0.6"/>
<line x1="342.1" y1="285.1" x2="342.1" y2="322.7" stroke="#EEEEEE" stroke-width="0.6"/>
<line x1="308.2" y1="289.44" x2="343.5" y2="289.44" stroke="#EEEEEE" stroke-width="0.6"/>
<line x1="308.2" y1="296.67" x2="343.5" y2="296.67" stroke="#EEEEEE" stroke-width="0.6"/>
<line x1="308.2" y1="303.9" x2="343.5" y2="303.9" stroke="#EEEEEE" stroke-width="0.6"/>
<line x1="308.2" y1="311.13" x2="343.5" y2="311.13" stroke="#EEEEEE" stroke-width="0.6"/>
<line x1="308.2" y1="318.36" x2="343.5" y2="318.36" stroke="#EEEEEE" stroke-width="0.6"/>
<rect x="309.6" y="286.76" width="10.4" height="5.35" fill="#D86AF2"/>
<rect x="309.6" y="293.99" width="8.3" height="5.35" fill="#D86AF2"/>
<rect x="309.6" y="301.22" width="6.4" height="5.35" fill="#D86AF2"/>
<rect x="309.6" y="308.46" width="6.1" height="5.35" fill="#D86AF2"/>
<rect x="309.6" y="315.69" width="6.2" height="5.35" fill="#D86AF2"/>
<line x1="308.2" y1="285.1" x2="343.5" y2="285.1" stroke="#8a8a8a" stroke-width="0.8"/>
<line x1="308.2" y1="285.1" x2="308.2" y2="322.7" stroke="#8a8a8a" stroke-width="0.8"/>
<line x1="307.8" y1="322.7" x2="343.9" y2="322.7" stroke="#222222" stroke-width="0.8"/>
<line x1="343.5" y1="284.7" x2="343.5" y2="322.7" stroke="#222222" stroke-width="0.8"/>
<line x1="343.5" y1="289.44" x2="345.1" y2="289.44" stroke="#222222" stroke-width="0.75"/>
<text x="346.8" y="291.74" font-size="6" text-anchor="start" font-weight="normal" fill="#2e2e2e" stroke="#2e2e2e" stroke-width="0.3">NPM1</text>
<line x1="343.5" y1="296.67" x2="345.1" y2="296.67" stroke="#222222" stroke-width="0.75"/>
<text x="346.8" y="298.97" font-size="6" text-anchor="start" font-weight="normal" fill="#2e2e2e" stroke="#2e2e2e" stroke-width="0.3">RUNX1</text>
<line x1="343.5" y1="303.9" x2="345.1" y2="303.9" stroke="#222222" stroke-width="0.75"/>
<text x="346.8" y="306.2" font-size="6" text-anchor="start" font-weight="normal" fill="#2e2e2e" stroke="#2e2e2e" stroke-width="0.3">SFRS2</text>
<line x1="343.5" y1="311.13" x2="345.1" y2="311.13" stroke="#222222" stroke-width="0.75"/>
<text x="346.8" y="313.43" font-size="6" text-anchor="start" font-weight="normal" fill="#2e2e2e" stroke="#2e2e2e" stroke-width="0.3">TP53</text>
<line x1="343.5" y1="318.36" x2="345.1" y2="318.36" stroke="#222222" stroke-width="0.75"/>
<text x="346.8" y="320.66" font-size="6" text-anchor="start" font-weight="normal" fill="#2e2e2e" stroke="#2e2e2e" stroke-width="0.3">ASXL1</text>
<line x1="309.6" y1="322.7" x2="309.6" y2="324.3" stroke="#222222" stroke-width="0.75"/>
<text x="309.6" y="330.4" font-size="6" text-anchor="middle" font-weight="normal" fill="#2e2e2e" stroke="#2e2e2e" stroke-width="0.3">0</text>
<line x1="325.85" y1="322.7" x2="325.85" y2="324.3" stroke="#222222" stroke-width="0.75"/>
<text x="325.85" y="330.4" font-size="6" text-anchor="middle" font-weight="normal" fill="#2e2e2e" stroke="#2e2e2e" stroke-width="0.3">0.5</text>
<line x1="342.1" y1="322.7" x2="342.1" y2="324.3" stroke="#222222" stroke-width="0.75"/>
<text x="342.1" y="330.4" font-size="6" text-anchor="middle" font-weight="normal" fill="#2e2e2e" stroke="#2e2e2e" stroke-width="0.3">1</text>
<line x1="392.15" y1="285.1" x2="392.15" y2="322.7" stroke="#EEEEEE" stroke-width="0.4"/>
<line x1="405.45" y1="285.1" x2="405.45" y2="322.7" stroke="#EEEEEE" stroke-width="0.4"/>
<line x1="385.5" y1="285.1" x2="385.5" y2="322.7" stroke="#EEEEEE" stroke-width="0.6"/>
<line x1="398.8" y1="285.1" x2="398.8" y2="322.7" stroke="#EEEEEE" stroke-width="0.6"/>
<line x1="412.1" y1="285.1" x2="412.1" y2="322.7" stroke="#EEEEEE" stroke-width="0.6"/>
<line x1="384.5" y1="289.44" x2="413.5" y2="289.44" stroke="#EEEEEE" stroke-width="0.6"/>
<line x1="384.5" y1="296.67" x2="413.5" y2="296.67" stroke="#EEEEEE" stroke-width="0.6"/>
<line x1="384.5" y1="303.9" x2="413.5" y2="303.9" stroke="#EEEEEE" stroke-width="0.6"/>
<line x1="384.5" y1="311.13" x2="413.5" y2="311.13" stroke="#EEEEEE" stroke-width="0.6"/>
<line x1="384.5" y1="318.36" x2="413.5" y2="318.36" stroke="#EEEEEE" stroke-width="0.6"/>
<rect x="385.5" y="286.76" width="10.5" height="5.35" fill="#EE60D4"/>
<rect x="385.5" y="293.99" width="4.4" height="5.35" fill="#EE60D4"/>
<rect x="385.5" y="301.22" width="3.6" height="5.35" fill="#EE60D4"/>
<rect x="385.5" y="308.46" width="3.6" height="5.35" fill="#EE60D4"/>
<rect x="385.5" y="315.69" width="3.3" height="5.35" fill="#EE60D4"/>
<line x1="384.5" y1="285.1" x2="413.5" y2="285.1" stroke="#8a8a8a" stroke-width="0.8"/>
<line x1="384.5" y1="285.1" x2="384.5" y2="322.7" stroke="#8a8a8a" stroke-width="0.8"/>
<line x1="384.1" y1="322.7" x2="413.9" y2="322.7" stroke="#222222" stroke-width="0.8"/>
<line x1="413.5" y1="284.7" x2="413.5" y2="322.7" stroke="#222222" stroke-width="0.8"/>
<line x1="413.5" y1="289.44" x2="415.1" y2="289.44" stroke="#222222" stroke-width="0.75"/>
<text x="416.8" y="291.74" font-size="6" text-anchor="start" font-weight="normal" fill="#2e2e2e" stroke="#2e2e2e" stroke-width="0.3">FLT3_ITD</text>
<line x1="413.5" y1="296.67" x2="415.1" y2="296.67" stroke="#222222" stroke-width="0.75"/>
<text x="416.8" y="298.97" font-size="6" text-anchor="start" font-weight="normal" fill="#2e2e2e" stroke="#2e2e2e" stroke-width="0.3">DNMT3A</text>
<line x1="413.5" y1="303.9" x2="415.1" y2="303.9" stroke="#222222" stroke-width="0.75"/>
<text x="416.8" y="306.2" font-size="6" text-anchor="start" font-weight="normal" fill="#2e2e2e" stroke="#2e2e2e" stroke-width="0.3">TET2</text>
<line x1="413.5" y1="311.13" x2="415.1" y2="311.13" stroke="#222222" stroke-width="0.75"/>
<text x="416.8" y="313.43" font-size="6" text-anchor="start" font-weight="normal" fill="#2e2e2e" stroke="#2e2e2e" stroke-width="0.3">NRAS</text>
<line x1="413.5" y1="318.36" x2="415.1" y2="318.36" stroke="#222222" stroke-width="0.75"/>
<text x="416.8" y="320.66" font-size="6" text-anchor="start" font-weight="normal" fill="#2e2e2e" stroke="#2e2e2e" stroke-width="0.3">WT1</text>
<line x1="385.5" y1="322.7" x2="385.5" y2="324.3" stroke="#222222" stroke-width="0.75"/>
<text x="385.5" y="330.4" font-size="6" text-anchor="middle" font-weight="normal" fill="#2e2e2e" stroke="#2e2e2e" stroke-width="0.3">0</text>
<line x1="398.8" y1="322.7" x2="398.8" y2="324.3" stroke="#222222" stroke-width="0.75"/>
<text x="398.8" y="330.4" font-size="6" text-anchor="middle" font-weight="normal" fill="#2e2e2e" stroke="#2e2e2e" stroke-width="0.3">0.5</text>
<line x1="412.1" y1="322.7" x2="412.1" y2="324.3" stroke="#222222" stroke-width="0.75"/>
<text x="412.1" y="330.4" font-size="6" text-anchor="middle" font-weight="normal" fill="#2e2e2e" stroke="#2e2e2e" stroke-width="0.3">1</text>
<line x1="2.83" y1="105.2" x2="2.83" y2="245.95" stroke="#EAEAEA" stroke-width="0.6"/>
<line x1="10.73" y1="105.2" x2="10.73" y2="245.95" stroke="#EAEAEA" stroke-width="0.6"/>
<line x1="18.63" y1="105.2" x2="18.63" y2="245.95" stroke="#EAEAEA" stroke-width="0.6"/>
<line x1="26.53" y1="105.2" x2="26.53" y2="245.95" stroke="#EAEAEA" stroke-width="0.6"/>
<line x1="34.42" y1="105.2" x2="34.42" y2="245.95" stroke="#EAEAEA" stroke-width="0.6"/>
<line x1="1.33" y1="221.17" x2="40.23" y2="221.17" stroke="#EAEAEA" stroke-width="0.6"/>
<line x1="1.33" y1="183.2" x2="40.23" y2="183.2" stroke="#EAEAEA" stroke-width="0.6"/>
<line x1="1.33" y1="145.24" x2="40.23" y2="145.24" stroke="#EAEAEA" stroke-width="0.6"/>
<line x1="1.33" y1="107.27" x2="40.23" y2="107.27" stroke="#EAEAEA" stroke-width="0.6"/>
<line x1="6.78" y1="105.2" x2="6.78" y2="245.95" stroke="#E4E4E4" stroke-width="0.8"/>
<line x1="14.68" y1="105.2" x2="14.68" y2="245.95" stroke="#E4E4E4" stroke-width="0.8"/>
<line x1="22.58" y1="105.2" x2="22.58" y2="245.95" stroke="#E4E4E4" stroke-width="0.8"/>
<line x1="30.48" y1="105.2" x2="30.48" y2="245.95" stroke="#E4E4E4" stroke-width="0.8"/>
<line x1="38.37" y1="105.2" x2="38.37" y2="245.95" stroke="#E4E4E4" stroke-width="0.8"/>
<line x1="1.33" y1="240.15" x2="40.23" y2="240.15" stroke="#E4E4E4" stroke-width="0.8"/>
<line x1="1.33" y1="202.19" x2="40.23" y2="202.19" stroke="#E4E4E4" stroke-width="0.8"/>
<line x1="1.33" y1="164.22" x2="40.23" y2="164.22" stroke="#E4E4E4" stroke-width="0.8"/>
<line x1="1.33" y1="126.26" x2="40.23" y2="126.26" stroke="#E4E4E4" stroke-width="0.8"/>
<line x1="24.55" y1="240.15" x2="36.4" y2="240.15" stroke="#444444" stroke-width="0.8"/>
<rect x="4.81" y="228.38" width="3.95" height="11.77" fill="#939393" stroke="#1a1a1a" stroke-width="0.7"/>
<rect x="8.75" y="208.26" width="3.95" height="31.89" fill="#939393" stroke="#1a1a1a" stroke-width="0.7"/>
<rect x="12.7" y="228.38" width="3.95" height="11.77" fill="#939393" stroke="#1a1a1a" stroke-width="0.7"/>
<rect x="16.65" y="234.46" width="3.95" height="5.69" fill="#939393" stroke="#1a1a1a" stroke-width="0.7"/>
<rect x="20.6" y="239.39" width="3.95" height="0.76" fill="#939393" stroke="#1a1a1a" stroke-width="0.7"/>
<line x1="1.33" y1="105.2" x2="40.23" y2="105.2" stroke="#8a8a8a" stroke-width="0.8"/>
<line x1="1.33" y1="105.2" x2="1.33" y2="245.95" stroke="#8a8a8a" stroke-width="0.8"/>
<line x1="0.93" y1="245.95" x2="40.63" y2="245.95" stroke="#222222" stroke-width="0.8"/>
<line x1="40.23" y1="104.8" x2="40.23" y2="245.95" stroke="#222222" stroke-width="0.8"/>
<line x1="40.23" y1="240.15" x2="41.83" y2="240.15" stroke="#222222" stroke-width="0.75"/>
<text x="43.43" y="242.6" font-size="6" text-anchor="start" font-weight="normal" fill="#2e2e2e" stroke="#2e2e2e" stroke-width="0.3">0</text>
<line x1="40.23" y1="202.19" x2="41.83" y2="202.19" stroke="#222222" stroke-width="0.75"/>
<text x="43.43" y="204.63" font-size="6" text-anchor="start" font-weight="normal" fill="#2e2e2e" stroke="#2e2e2e" stroke-width="0.3">50</text>
<line x1="40.23" y1="164.22" x2="41.83" y2="164.22" stroke="#222222" stroke-width="0.75"/>
<text x="43.43" y="166.67" font-size="6" text-anchor="start" font-weight="normal" fill="#2e2e2e" stroke="#2e2e2e" stroke-width="0.3">100</text>
<line x1="40.23" y1="126.26" x2="41.83" y2="126.26" stroke="#222222" stroke-width="0.75"/>
<text x="43.43" y="128.71" font-size="6" text-anchor="start" font-weight="normal" fill="#2e2e2e" stroke="#2e2e2e" stroke-width="0.3">150</text>
<line x1="6.78" y1="245.95" x2="6.78" y2="247.55" stroke="#222222" stroke-width="0.75"/>
<text x="6.78" y="254.75" font-size="6" text-anchor="middle" font-weight="normal" fill="#2e2e2e" stroke="#2e2e2e" stroke-width="0.3">0</text>
<line x1="14.68" y1="245.95" x2="14.68" y2="247.55" stroke="#222222" stroke-width="0.75"/>
<text x="14.68" y="254.75" font-size="6" text-anchor="middle" font-weight="normal" fill="#2e2e2e" stroke="#2e2e2e" stroke-width="0.3">2</text>
<line x1="22.58" y1="245.95" x2="22.58" y2="247.55" stroke="#222222" stroke-width="0.75"/>
<text x="22.58" y="254.75" font-size="6" text-anchor="middle" font-weight="normal" fill="#2e2e2e" stroke="#2e2e2e" stroke-width="0.3">4</text>
<line x1="30.48" y1="245.95" x2="30.48" y2="247.55" stroke="#222222" stroke-width="0.75"/>
<text x="30.48" y="254.75" font-size="6" text-anchor="middle" font-weight="normal" fill="#2e2e2e" stroke="#2e2e2e" stroke-width="0.3">6</text>
<line x1="38.37" y1="245.95" x2="38.37" y2="247.55" stroke="#222222" stroke-width="0.75"/>
<text x="38.37" y="254.75" font-size="6" text-anchor="middle" font-weight="normal" fill="#2e2e2e" stroke="#2e2e2e" stroke-width="0.3">8</text>
<text x="20.78" y="101.4" font-size="7.6" text-anchor="middle" font-weight="bold" fill="#000" stroke="#000" stroke-width="0.2">inv(16)</text>
<line x1="79.61" y1="105.2" x2="79.61" y2="245.95" stroke="#EAEAEA" stroke-width="0.6"/>
<line x1="87.51" y1="105.2" x2="87.51" y2="245.95" stroke="#EAEAEA" stroke-width="0.6"/>
<line x1="95.41" y1="105.2" x2="95.41" y2="245.95" stroke="#EAEAEA" stroke-width="0.6"/>
<line x1="103.31" y1="105.2" x2="103.31" y2="245.95" stroke="#EAEAEA" stroke-width="0.6"/>
<line x1="111.2" y1="105.2" x2="111.2" y2="245.95" stroke="#EAEAEA" stroke-width="0.6"/>
<line x1="78.11" y1="221.17" x2="117.01" y2="221.17" stroke="#EAEAEA" stroke-width="0.6"/>
<line x1="78.11" y1="183.2" x2="117.01" y2="183.2" stroke="#EAEAEA" stroke-width="0.6"/>
<line x1="78.11" y1="145.24" x2="117.01" y2="145.24" stroke="#EAEAEA" stroke-width="0.6"/>
<line x1="78.11" y1="107.27" x2="117.01" y2="107.27" stroke="#EAEAEA" stroke-width="0.6"/>
<line x1="83.56" y1="105.2" x2="83.56" y2="245.95" stroke="#E4E4E4" stroke-width="0.8"/>
<line x1="91.46" y1="105.2" x2="91.46" y2="245.95" stroke="#E4E4E4" stroke-width="0.8"/>
<line x1="99.36" y1="105.2" x2="99.36" y2="245.95" stroke="#E4E4E4" stroke-width="0.8"/>
<line x1="107.26" y1="105.2" x2="107.26" y2="245.95" stroke="#E4E4E4" stroke-width="0.8"/>
<line x1="115.15" y1="105.2" x2="115.15" y2="245.95" stroke="#E4E4E4" stroke-width="0.8"/>
<line x1="78.11" y1="240.15" x2="117.01" y2="240.15" stroke="#E4E4E4" stroke-width="0.8"/>
<line x1="78.11" y1="202.19" x2="117.01" y2="202.19" stroke="#E4E4E4" stroke-width="0.8"/>
<line x1="78.11" y1="164.22" x2="117.01" y2="164.22" stroke="#E4E4E4" stroke-width="0.8"/>
<line x1="78.11" y1="126.26" x2="117.01" y2="126.26" stroke="#E4E4E4" stroke-width="0.8"/>
<line x1="101.33" y1="240.15" x2="113.18" y2="240.15" stroke="#444444" stroke-width="0.8"/>
<rect x="81.59" y="226.1" width="3.95" height="14.05" fill="#939393" stroke="#1a1a1a" stroke-width="0.7"/>
<rect x="85.53" y="220.03" width="3.95" height="20.12" fill="#939393" stroke="#1a1a1a" stroke-width="0.7"/>
<rect x="89.48" y="229.52" width="3.95" height="10.63" fill="#939393" stroke="#1a1a1a" stroke-width="0.7"/>
<rect x="93.43" y="239.01" width="3.95" height="1.14" fill="#939393" stroke="#1a1a1a" stroke-width="0.7"/>
<rect x="97.38" y="239.01" width="3.95" height="1.14" fill="#939393" stroke="#1a1a1a" stroke-width="0.7"/>
<line x1="78.11" y1="105.2" x2="117.01" y2="105.2" stroke="#8a8a8a" stroke-width="0.8"/>
<line x1="78.11" y1="105.2" x2="78.11" y2="245.95" stroke="#8a8a8a" stroke-width="0.8"/>
<line x1="77.71" y1="245.95" x2="117.41" y2="245.95" stroke="#222222" stroke-width="0.8"/>
<line x1="117.01" y1="104.8" x2="117.01" y2="245.95" stroke="#222222" stroke-width="0.8"/>
<line x1="117.01" y1="240.15" x2="118.61" y2="240.15" stroke="#222222" stroke-width="0.75"/>
<text x="120.21" y="242.6" font-size="6" text-anchor="start" font-weight="normal" fill="#2e2e2e" stroke="#2e2e2e" stroke-width="0.3">0</text>
<line x1="117.01" y1="202.19" x2="118.61" y2="202.19" stroke="#222222" stroke-width="0.75"/>
<text x="120.21" y="204.63" font-size="6" text-anchor="start" font-weight="normal" fill="#2e2e2e" stroke="#2e2e2e" stroke-width="0.3">50</text>
<line x1="117.01" y1="164.22" x2="118.61" y2="164.22" stroke="#222222" stroke-width="0.75"/>
<text x="120.21" y="166.67" font-size="6" text-anchor="start" font-weight="normal" fill="#2e2e2e" stroke="#2e2e2e" stroke-width="0.3">100</text>
<line x1="117.01" y1="126.26" x2="118.61" y2="126.26" stroke="#222222" stroke-width="0.75"/>
<text x="120.21" y="128.71" font-size="6" text-anchor="start" font-weight="normal" fill="#2e2e2e" stroke="#2e2e2e" stroke-width="0.3">150</text>
<line x1="83.56" y1="245.95" x2="83.56" y2="247.55" stroke="#222222" stroke-width="0.75"/>
<text x="83.56" y="254.75" font-size="6" text-anchor="middle" font-weight="normal" fill="#2e2e2e" stroke="#2e2e2e" stroke-width="0.3">0</text>
<line x1="91.46" y1="245.95" x2="91.46" y2="247.55" stroke="#222222" stroke-width="0.75"/>
<text x="91.46" y="254.75" font-size="6" text-anchor="middle" font-weight="normal" fill="#2e2e2e" stroke="#2e2e2e" stroke-width="0.3">2</text>
<line x1="99.36" y1="245.95" x2="99.36" y2="247.55" stroke="#222222" stroke-width="0.75"/>
<text x="99.36" y="254.75" font-size="6" text-anchor="middle" font-weight="normal" fill="#2e2e2e" stroke="#2e2e2e" stroke-width="0.3">4</text>
<line x1="107.26" y1="245.95" x2="107.26" y2="247.55" stroke="#222222" stroke-width="0.75"/>
<text x="107.26" y="254.75" font-size="6" text-anchor="middle" font-weight="normal" fill="#2e2e2e" stroke="#2e2e2e" stroke-width="0.3">6</text>
<line x1="115.15" y1="245.95" x2="115.15" y2="247.55" stroke="#222222" stroke-width="0.75"/>
<text x="115.15" y="254.75" font-size="6" text-anchor="middle" font-weight="normal" fill="#2e2e2e" stroke="#2e2e2e" stroke-width="0.3">8</text>
<text x="97.56" y="101.4" font-size="7.6" text-anchor="middle" font-weight="bold" fill="#000" stroke="#000" stroke-width="0.2">t(15;17)</text>
<line x1="156.39" y1="105.2" x2="156.39" y2="245.95" stroke="#EAEAEA" stroke-width="0.6"/>
<line x1="164.29" y1="105.2" x2="164.29" y2="245.95" stroke="#EAEAEA" stroke-width="0.6"/>
<line x1="172.19" y1="105.2" x2="172.19" y2="245.95" stroke="#EAEAEA" stroke-width="0.6"/>
<line x1="180.09" y1="105.2" x2="180.09" y2="245.95" stroke="#EAEAEA" stroke-width="0.6"/>
<line x1="187.98" y1="105.2" x2="187.98" y2="245.95" stroke="#EAEAEA" stroke-width="0.6"/>
<line x1="154.89" y1="221.17" x2="193.79" y2="221.17" stroke="#EAEAEA" stroke-width="0.6"/>
<line x1="154.89" y1="183.2" x2="193.79" y2="183.2" stroke="#EAEAEA" stroke-width="0.6"/>
<line x1="154.89" y1="145.24" x2="193.79" y2="145.24" stroke="#EAEAEA" stroke-width="0.6"/>
<line x1="154.89" y1="107.27" x2="193.79" y2="107.27" stroke="#EAEAEA" stroke-width="0.6"/>
<line x1="160.34" y1="105.2" x2="160.34" y2="245.95" stroke="#E4E4E4" stroke-width="0.8"/>
<line x1="168.24" y1="105.2" x2="168.24" y2="245.95" stroke="#E4E4E4" stroke-width="0.8"/>
<line x1="176.14" y1="105.2" x2="176.14" y2="245.95" stroke="#E4E4E4" stroke-width="0.8"/>
<line x1="184.04" y1="105.2" x2="184.04" y2="245.95" stroke="#E4E4E4" stroke-width="0.8"/>
<line x1="191.93" y1="105.2" x2="191.93" y2="245.95" stroke="#E4E4E4" stroke-width="0.8"/>
<line x1="154.89" y1="240.15" x2="193.79" y2="240.15" stroke="#E4E4E4" stroke-width="0.8"/>
<line x1="154.89" y1="202.19" x2="193.79" y2="202.19" stroke="#E4E4E4" stroke-width="0.8"/>
<line x1="154.89" y1="164.22" x2="193.79" y2="164.22" stroke="#E4E4E4" stroke-width="0.8"/>
<line x1="154.89" y1="126.26" x2="193.79" y2="126.26" stroke="#E4E4E4" stroke-width="0.8"/>
<line x1="178.11" y1="240.15" x2="189.96" y2="240.15" stroke="#444444" stroke-width="0.8"/>
<rect x="158.37" y="228.38" width="3.95" height="11.77" fill="#939393" stroke="#1a1a1a" stroke-width="0.7"/>
<rect x="162.31" y="221.93" width="3.95" height="18.22" fill="#939393" stroke="#1a1a1a" stroke-width="0.7"/>
<rect x="166.26" y="228.38" width="3.95" height="11.77" fill="#939393" stroke="#1a1a1a" stroke-width="0.7"/>
<rect x="170.21" y="236.13" width="3.95" height="4.02" fill="#939393" stroke="#1a1a1a" stroke-width="0.7"/>
<rect x="174.16" y="239.16" width="3.95" height="0.99" fill="#939393" stroke="#1a1a1a" stroke-width="0.7"/>
<line x1="154.89" y1="105.2" x2="193.79" y2="105.2" stroke="#8a8a8a" stroke-width="0.8"/>
<line x1="154.89" y1="105.2" x2="154.89" y2="245.95" stroke="#8a8a8a" stroke-width="0.8"/>
<line x1="154.49" y1="245.95" x2="194.19" y2="245.95" stroke="#222222" stroke-width="0.8"/>
<line x1="193.79" y1="104.8" x2="193.79" y2="245.95" stroke="#222222" stroke-width="0.8"/>
<line x1="193.79" y1="240.15" x2="195.39" y2="240.15" stroke="#222222" stroke-width="0.75"/>
<text x="196.99" y="242.6" font-size="6" text-anchor="start" font-weight="normal" fill="#2e2e2e" stroke="#2e2e2e" stroke-width="0.3">0</text>
<line x1="193.79" y1="202.19" x2="195.39" y2="202.19" stroke="#222222" stroke-width="0.75"/>
<text x="196.99" y="204.63" font-size="6" text-anchor="start" font-weight="normal" fill="#2e2e2e" stroke="#2e2e2e" stroke-width="0.3">50</text>
<line x1="193.79" y1="164.22" x2="195.39" y2="164.22" stroke="#222222" stroke-width="0.75"/>
<text x="196.99" y="166.67" font-size="6" text-anchor="start" font-weight="normal" fill="#2e2e2e" stroke="#2e2e2e" stroke-width="0.3">100</text>
<line x1="193.79" y1="126.26" x2="195.39" y2="126.26" stroke="#222222" stroke-width="0.75"/>
<text x="196.99" y="128.71" font-size="6" text-anchor="start" font-weight="normal" fill="#2e2e2e" stroke="#2e2e2e" stroke-width="0.3">150</text>
<line x1="160.34" y1="245.95" x2="160.34" y2="247.55" stroke="#222222" stroke-width="0.75"/>
<text x="160.34" y="254.75" font-size="6" text-anchor="middle" font-weight="normal" fill="#2e2e2e" stroke="#2e2e2e" stroke-width="0.3">0</text>
<line x1="168.24" y1="245.95" x2="168.24" y2="247.55" stroke="#222222" stroke-width="0.75"/>
<text x="168.24" y="254.75" font-size="6" text-anchor="middle" font-weight="normal" fill="#2e2e2e" stroke="#2e2e2e" stroke-width="0.3">2</text>
<line x1="176.14" y1="245.95" x2="176.14" y2="247.55" stroke="#222222" stroke-width="0.75"/>
<text x="176.14" y="254.75" font-size="6" text-anchor="middle" font-weight="normal" fill="#2e2e2e" stroke="#2e2e2e" stroke-width="0.3">4</text>
<line x1="184.04" y1="245.95" x2="184.04" y2="247.55" stroke="#222222" stroke-width="0.75"/>
<text x="184.04" y="254.75" font-size="6" text-anchor="middle" font-weight="normal" fill="#2e2e2e" stroke="#2e2e2e" stroke-width="0.3">6</text>
<line x1="191.93" y1="245.95" x2="191.93" y2="247.55" stroke="#222222" stroke-width="0.75"/>
<text x="191.93" y="254.75" font-size="6" text-anchor="middle" font-weight="normal" fill="#2e2e2e" stroke="#2e2e2e" stroke-width="0.3">8</text>
<text x="174.34" y="101.4" font-size="7.6" text-anchor="middle" font-weight="bold" fill="#000" stroke="#000" stroke-width="0.2">t(8;21)</text>
<line x1="233.17" y1="105.2" x2="233.17" y2="245.95" stroke="#EAEAEA" stroke-width="0.6"/>
<line x1="241.07" y1="105.2" x2="241.07" y2="245.95" stroke="#EAEAEA" stroke-width="0.6"/>
<line x1="248.97" y1="105.2" x2="248.97" y2="245.95" stroke="#EAEAEA" stroke-width="0.6"/>
<line x1="256.87" y1="105.2" x2="256.87" y2="245.95" stroke="#EAEAEA" stroke-width="0.6"/>
<line x1="264.76" y1="105.2" x2="264.76" y2="245.95" stroke="#EAEAEA" stroke-width="0.6"/>
<line x1="231.67" y1="221.17" x2="270.57" y2="221.17" stroke="#EAEAEA" stroke-width="0.6"/>
<line x1="231.67" y1="183.2" x2="270.57" y2="183.2" stroke="#EAEAEA" stroke-width="0.6"/>
<line x1="231.67" y1="145.24" x2="270.57" y2="145.24" stroke="#EAEAEA" stroke-width="0.6"/>
<line x1="231.67" y1="107.27" x2="270.57" y2="107.27" stroke="#EAEAEA" stroke-width="0.6"/>
<line x1="237.12" y1="105.2" x2="237.12" y2="245.95" stroke="#E4E4E4" stroke-width="0.8"/>
<line x1="245.02" y1="105.2" x2="245.02" y2="245.95" stroke="#E4E4E4" stroke-width="0.8"/>
<line x1="252.92" y1="105.2" x2="252.92" y2="245.95" stroke="#E4E4E4" stroke-width="0.8"/>
<line x1="260.82" y1="105.2" x2="260.82" y2="245.95" stroke="#E4E4E4" stroke-width="0.8"/>
<line x1="268.71" y1="105.2" x2="268.71" y2="245.95" stroke="#E4E4E4" stroke-width="0.8"/>
<line x1="231.67" y1="240.15" x2="270.57" y2="240.15" stroke="#E4E4E4" stroke-width="0.8"/>
<line x1="231.67" y1="202.19" x2="270.57" y2="202.19" stroke="#E4E4E4" stroke-width="0.8"/>
<line x1="231.67" y1="164.22" x2="270.57" y2="164.22" stroke="#E4E4E4" stroke-width="0.8"/>
<line x1="231.67" y1="126.26" x2="270.57" y2="126.26" stroke="#E4E4E4" stroke-width="0.8"/>
<line x1="258.84" y1="240.15" x2="266.74" y2="240.15" stroke="#444444" stroke-width="0.8"/>
<rect x="235.15" y="228.99" width="3.95" height="11.16" fill="#939393" stroke="#1a1a1a" stroke-width="0.7"/>
<rect x="239.09" y="228.99" width="3.95" height="11.16" fill="#939393" stroke="#1a1a1a" stroke-width="0.7"/>
<rect x="243.04" y="228.99" width="3.95" height="11.16" fill="#939393" stroke="#1a1a1a" stroke-width="0.7"/>
<rect x="246.99" y="239.01" width="3.95" height="1.14" fill="#939393" stroke="#1a1a1a" stroke-width="0.7"/>
<rect x="250.94" y="239.54" width="3.95" height="0.61" fill="#939393" stroke="#1a1a1a" stroke-width="0.7"/>
<rect x="254.89" y="239.01" width="3.95" height="1.14" fill="#939393" stroke="#1a1a1a" stroke-width="0.7"/>
<line x1="231.67" y1="105.2" x2="270.57" y2="105.2" stroke="#8a8a8a" stroke-width="0.8"/>
<line x1="231.67" y1="105.2" x2="231.67" y2="245.95" stroke="#8a8a8a" stroke-width="0.8"/>
<line x1="231.27" y1="245.95" x2="270.97" y2="245.95" stroke="#222222" stroke-width="0.8"/>
<line x1="270.57" y1="104.8" x2="270.57" y2="245.95" stroke="#222222" stroke-width="0.8"/>
<line x1="270.57" y1="240.15" x2="272.17" y2="240.15" stroke="#222222" stroke-width="0.75"/>
<text x="273.77" y="242.6" font-size="6" text-anchor="start" font-weight="normal" fill="#2e2e2e" stroke="#2e2e2e" stroke-width="0.3">0</text>
<line x1="270.57" y1="202.19" x2="272.17" y2="202.19" stroke="#222222" stroke-width="0.75"/>
<text x="273.77" y="204.63" font-size="6" text-anchor="start" font-weight="normal" fill="#2e2e2e" stroke="#2e2e2e" stroke-width="0.3">50</text>
<line x1="270.57" y1="164.22" x2="272.17" y2="164.22" stroke="#222222" stroke-width="0.75"/>
<text x="273.77" y="166.67" font-size="6" text-anchor="start" font-weight="normal" fill="#2e2e2e" stroke="#2e2e2e" stroke-width="0.3">100</text>
<line x1="270.57" y1="126.26" x2="272.17" y2="126.26" stroke="#222222" stroke-width="0.75"/>
<text x="273.77" y="128.71" font-size="6" text-anchor="start" font-weight="normal" fill="#2e2e2e" stroke="#2e2e2e" stroke-width="0.3">150</text>
<line x1="237.12" y1="245.95" x2="237.12" y2="247.55" stroke="#222222" stroke-width="0.75"/>
<text x="237.12" y="254.75" font-size="6" text-anchor="middle" font-weight="normal" fill="#2e2e2e" stroke="#2e2e2e" stroke-width="0.3">0</text>
<line x1="245.02" y1="245.95" x2="245.02" y2="247.55" stroke="#222222" stroke-width="0.75"/>
<text x="245.02" y="254.75" font-size="6" text-anchor="middle" font-weight="normal" fill="#2e2e2e" stroke="#2e2e2e" stroke-width="0.3">2</text>
<line x1="252.92" y1="245.95" x2="252.92" y2="247.55" stroke="#222222" stroke-width="0.75"/>
<text x="252.92" y="254.75" font-size="6" text-anchor="middle" font-weight="normal" fill="#2e2e2e" stroke="#2e2e2e" stroke-width="0.3">4</text>
<line x1="260.82" y1="245.95" x2="260.82" y2="247.55" stroke="#222222" stroke-width="0.75"/>
<text x="260.82" y="254.75" font-size="6" text-anchor="middle" font-weight="normal" fill="#2e2e2e" stroke="#2e2e2e" stroke-width="0.3">6</text>
<line x1="268.71" y1="245.95" x2="268.71" y2="247.55" stroke="#222222" stroke-width="0.75"/>
<text x="268.71" y="254.75" font-size="6" text-anchor="middle" font-weight="normal" fill="#2e2e2e" stroke="#2e2e2e" stroke-width="0.3">8</text>
<text x="251.12" y="101.4" font-size="7.6" text-anchor="middle" font-weight="bold" fill="#000" stroke="#000" stroke-width="0.2">t(v;11)</text>
<line x1="309.95" y1="105.2" x2="309.95" y2="245.95" stroke="#EAEAEA" stroke-width="0.6"/>
<line x1="317.85" y1="105.2" x2="317.85" y2="245.95" stroke="#EAEAEA" stroke-width="0.6"/>
<line x1="325.75" y1="105.2" x2="325.75" y2="245.95" stroke="#EAEAEA" stroke-width="0.6"/>
<line x1="333.65" y1="105.2" x2="333.65" y2="245.95" stroke="#EAEAEA" stroke-width="0.6"/>
<line x1="341.54" y1="105.2" x2="341.54" y2="245.95" stroke="#EAEAEA" stroke-width="0.6"/>
<line x1="308.45" y1="221.17" x2="347.35" y2="221.17" stroke="#EAEAEA" stroke-width="0.6"/>
<line x1="308.45" y1="183.2" x2="347.35" y2="183.2" stroke="#EAEAEA" stroke-width="0.6"/>
<line x1="308.45" y1="145.24" x2="347.35" y2="145.24" stroke="#EAEAEA" stroke-width="0.6"/>
<line x1="308.45" y1="107.27" x2="347.35" y2="107.27" stroke="#EAEAEA" stroke-width="0.6"/>
<line x1="313.9" y1="105.2" x2="313.9" y2="245.95" stroke="#E4E4E4" stroke-width="0.8"/>
<line x1="321.8" y1="105.2" x2="321.8" y2="245.95" stroke="#E4E4E4" stroke-width="0.8"/>
<line x1="329.7" y1="105.2" x2="329.7" y2="245.95" stroke="#E4E4E4" stroke-width="0.8"/>
<line x1="337.6" y1="105.2" x2="337.6" y2="245.95" stroke="#E4E4E4" stroke-width="0.8"/>
<line x1="345.49" y1="105.2" x2="345.49" y2="245.95" stroke="#E4E4E4" stroke-width="0.8"/>
<line x1="308.45" y1="240.15" x2="347.35" y2="240.15" stroke="#E4E4E4" stroke-width="0.8"/>
<line x1="308.45" y1="202.19" x2="347.35" y2="202.19" stroke="#E4E4E4" stroke-width="0.8"/>
<line x1="308.45" y1="164.22" x2="347.35" y2="164.22" stroke="#E4E4E4" stroke-width="0.8"/>
<line x1="308.45" y1="126.26" x2="347.35" y2="126.26" stroke="#E4E4E4" stroke-width="0.8"/>
<line x1="331.67" y1="240.15" x2="343.52" y2="240.15" stroke="#444444" stroke-width="0.8"/>
<rect x="311.93" y="239.39" width="3.95" height="0.76" fill="#939393" stroke="#1a1a1a" stroke-width="0.7"/>
<rect x="315.87" y="233.77" width="3.95" height="6.38" fill="#939393" stroke="#1a1a1a" stroke-width="0.7"/>
<rect x="319.82" y="237.42" width="3.95" height="2.73" fill="#939393" stroke="#1a1a1a" stroke-width="0.7"/>
<rect x="323.77" y="234.38" width="3.95" height="5.77" fill="#939393" stroke="#1a1a1a" stroke-width="0.7"/>
<rect x="327.72" y="239.39" width="3.95" height="0.76" fill="#939393" stroke="#1a1a1a" stroke-width="0.7"/>
<line x1="308.45" y1="105.2" x2="347.35" y2="105.2" stroke="#8a8a8a" stroke-width="0.8"/>
<line x1="308.45" y1="105.2" x2="308.45" y2="245.95" stroke="#8a8a8a" stroke-width="0.8"/>
<line x1="308.05" y1="245.95" x2="347.75" y2="245.95" stroke="#222222" stroke-width="0.8"/>
<line x1="347.35" y1="104.8" x2="347.35" y2="245.95" stroke="#222222" stroke-width="0.8"/>
<line x1="347.35" y1="240.15" x2="348.95" y2="240.15" stroke="#222222" stroke-width="0.75"/>
<text x="350.55" y="242.6" font-size="6" text-anchor="start" font-weight="normal" fill="#2e2e2e" stroke="#2e2e2e" stroke-width="0.3">0</text>
<line x1="347.35" y1="202.19" x2="348.95" y2="202.19" stroke="#222222" stroke-width="0.75"/>
<text x="350.55" y="204.63" font-size="6" text-anchor="start" font-weight="normal" fill="#2e2e2e" stroke="#2e2e2e" stroke-width="0.3">50</text>
<line x1="347.35" y1="164.22" x2="348.95" y2="164.22" stroke="#222222" stroke-width="0.75"/>
<text x="350.55" y="166.67" font-size="6" text-anchor="start" font-weight="normal" fill="#2e2e2e" stroke="#2e2e2e" stroke-width="0.3">100</text>
<line x1="347.35" y1="126.26" x2="348.95" y2="126.26" stroke="#222222" stroke-width="0.75"/>
<text x="350.55" y="128.71" font-size="6" text-anchor="start" font-weight="normal" fill="#2e2e2e" stroke="#2e2e2e" stroke-width="0.3">150</text>
<line x1="313.9" y1="245.95" x2="313.9" y2="247.55" stroke="#222222" stroke-width="0.75"/>
<text x="313.9" y="254.75" font-size="6" text-anchor="middle" font-weight="normal" fill="#2e2e2e" stroke="#2e2e2e" stroke-width="0.3">0</text>
<line x1="321.8" y1="245.95" x2="321.8" y2="247.55" stroke="#222222" stroke-width="0.75"/>
<text x="321.8" y="254.75" font-size="6" text-anchor="middle" font-weight="normal" fill="#2e2e2e" stroke="#2e2e2e" stroke-width="0.3">2</text>
<line x1="329.7" y1="245.95" x2="329.7" y2="247.55" stroke="#222222" stroke-width="0.75"/>
<text x="329.7" y="254.75" font-size="6" text-anchor="middle" font-weight="normal" fill="#2e2e2e" stroke="#2e2e2e" stroke-width="0.3">4</text>
<line x1="337.6" y1="245.95" x2="337.6" y2="247.55" stroke="#222222" stroke-width="0.75"/>
<text x="337.6" y="254.75" font-size="6" text-anchor="middle" font-weight="normal" fill="#2e2e2e" stroke="#2e2e2e" stroke-width="0.3">6</text>
<line x1="345.49" y1="245.95" x2="345.49" y2="247.55" stroke="#222222" stroke-width="0.75"/>
<text x="345.49" y="254.75" font-size="6" text-anchor="middle" font-weight="normal" fill="#2e2e2e" stroke="#2e2e2e" stroke-width="0.3">8</text>
<text x="327.9" y="101.4" font-size="7.6" text-anchor="middle" font-weight="bold" fill="#000" stroke="#000" stroke-width="0.2">inv(3)</text>
<line x1="386.73" y1="105.2" x2="386.73" y2="245.95" stroke="#EAEAEA" stroke-width="0.6"/>
<line x1="394.63" y1="105.2" x2="394.63" y2="245.95" stroke="#EAEAEA" stroke-width="0.6"/>
<line x1="402.53" y1="105.2" x2="402.53" y2="245.95" stroke="#EAEAEA" stroke-width="0.6"/>
<line x1="410.43" y1="105.2" x2="410.43" y2="245.95" stroke="#EAEAEA" stroke-width="0.6"/>
<line x1="418.32" y1="105.2" x2="418.32" y2="245.95" stroke="#EAEAEA" stroke-width="0.6"/>
<line x1="385.23" y1="221.17" x2="424.13" y2="221.17" stroke="#EAEAEA" stroke-width="0.6"/>
<line x1="385.23" y1="183.2" x2="424.13" y2="183.2" stroke="#EAEAEA" stroke-width="0.6"/>
<line x1="385.23" y1="145.24" x2="424.13" y2="145.24" stroke="#EAEAEA" stroke-width="0.6"/>
<line x1="385.23" y1="107.27" x2="424.13" y2="107.27" stroke="#EAEAEA" stroke-width="0.6"/>
<line x1="390.68" y1="105.2" x2="390.68" y2="245.95" stroke="#E4E4E4" stroke-width="0.8"/>
<line x1="398.58" y1="105.2" x2="398.58" y2="245.95" stroke="#E4E4E4" stroke-width="0.8"/>
<line x1="406.48" y1="105.2" x2="406.48" y2="245.95" stroke="#E4E4E4" stroke-width="0.8"/>
<line x1="414.38" y1="105.2" x2="414.38" y2="245.95" stroke="#E4E4E4" stroke-width="0.8"/>
<line x1="422.27" y1="105.2" x2="422.27" y2="245.95" stroke="#E4E4E4" stroke-width="0.8"/>
<line x1="385.23" y1="240.15" x2="424.13" y2="240.15" stroke="#E4E4E4" stroke-width="0.8"/>
<line x1="385.23" y1="202.19" x2="424.13" y2="202.19" stroke="#E4E4E4" stroke-width="0.8"/>
<line x1="385.23" y1="164.22" x2="424.13" y2="164.22" stroke="#E4E4E4" stroke-width="0.8"/>
<line x1="385.23" y1="126.26" x2="424.13" y2="126.26" stroke="#E4E4E4" stroke-width="0.8"/>
<line x1="388.71" y1="240.15" x2="392.65" y2="240.15" stroke="#444444" stroke-width="0.8"/>
<line x1="408.45" y1="240.15" x2="420.3" y2="240.15" stroke="#444444" stroke-width="0.8"/>
<rect x="392.65" y="233.16" width="3.95" height="6.99" fill="#939393" stroke="#1a1a1a" stroke-width="0.7"/>
<rect x="396.6" y="236.35" width="3.95" height="3.8" fill="#939393" stroke="#1a1a1a" stroke-width="0.7"/>
<rect x="400.55" y="239.39" width="3.95" height="0.76" fill="#939393" stroke="#1a1a1a" stroke-width="0.7"/>
<rect x="404.5" y="239.39" width="3.95" height="0.76" fill="#939393" stroke="#1a1a1a" stroke-width="0.7"/>
<line x1="385.23" y1="105.2" x2="424.13" y2="105.2" stroke="#8a8a8a" stroke-width="0.8"/>
<line x1="385.23" y1="105.2" x2="385.23" y2="245.95" stroke="#8a8a8a" stroke-width="0.8"/>
<line x1="384.83" y1="245.95" x2="424.53" y2="245.95" stroke="#222222" stroke-width="0.8"/>
<line x1="424.13" y1="104.8" x2="424.13" y2="245.95" stroke="#222222" stroke-width="0.8"/>
<line x1="424.13" y1="240.15" x2="425.73" y2="240.15" stroke="#222222" stroke-width="0.75"/>
<text x="427.33" y="242.6" font-size="6" text-anchor="start" font-weight="normal" fill="#2e2e2e" stroke="#2e2e2e" stroke-width="0.3">0</text>
<line x1="424.13" y1="202.19" x2="425.73" y2="202.19" stroke="#222222" stroke-width="0.75"/>
<text x="427.33" y="204.63" font-size="6" text-anchor="start" font-weight="normal" fill="#2e2e2e" stroke="#2e2e2e" stroke-width="0.3">50</text>
<line x1="424.13" y1="164.22" x2="425.73" y2="164.22" stroke="#222222" stroke-width="0.75"/>
<text x="427.33" y="166.67" font-size="6" text-anchor="start" font-weight="normal" fill="#2e2e2e" stroke="#2e2e2e" stroke-width="0.3">100</text>
<line x1="424.13" y1="126.26" x2="425.73" y2="126.26" stroke="#222222" stroke-width="0.75"/>
<text x="427.33" y="128.71" font-size="6" text-anchor="start" font-weight="normal" fill="#2e2e2e" stroke="#2e2e2e" stroke-width="0.3">150</text>
<line x1="390.68" y1="245.95" x2="390.68" y2="247.55" stroke="#222222" stroke-width="0.75"/>
<text x="390.68" y="254.75" font-size="6" text-anchor="middle" font-weight="normal" fill="#2e2e2e" stroke="#2e2e2e" stroke-width="0.3">0</text>
<line x1="398.58" y1="245.95" x2="398.58" y2="247.55" stroke="#222222" stroke-width="0.75"/>
<text x="398.58" y="254.75" font-size="6" text-anchor="middle" font-weight="normal" fill="#2e2e2e" stroke="#2e2e2e" stroke-width="0.3">2</text>
<line x1="406.48" y1="245.95" x2="406.48" y2="247.55" stroke="#222222" stroke-width="0.75"/>
<text x="406.48" y="254.75" font-size="6" text-anchor="middle" font-weight="normal" fill="#2e2e2e" stroke="#2e2e2e" stroke-width="0.3">4</text>
<line x1="414.38" y1="245.95" x2="414.38" y2="247.55" stroke="#222222" stroke-width="0.75"/>
<text x="414.38" y="254.75" font-size="6" text-anchor="middle" font-weight="normal" fill="#2e2e2e" stroke="#2e2e2e" stroke-width="0.3">6</text>
<line x1="422.27" y1="245.95" x2="422.27" y2="247.55" stroke="#222222" stroke-width="0.75"/>
<text x="422.27" y="254.75" font-size="6" text-anchor="middle" font-weight="normal" fill="#2e2e2e" stroke="#2e2e2e" stroke-width="0.3">8</text>
<text x="404.68" y="101.4" font-size="7.6" text-anchor="middle" font-weight="bold" fill="#000" stroke="#000" stroke-width="0.2">t(6;9)</text>
<line x1="463.51" y1="105.2" x2="463.51" y2="245.95" stroke="#EAEAEA" stroke-width="0.6"/>
<line x1="471.41" y1="105.2" x2="471.41" y2="245.95" stroke="#EAEAEA" stroke-width="0.6"/>
<line x1="479.31" y1="105.2" x2="479.31" y2="245.95" stroke="#EAEAEA" stroke-width="0.6"/>
<line x1="487.21" y1="105.2" x2="487.21" y2="245.95" stroke="#EAEAEA" stroke-width="0.6"/>
<line x1="495.1" y1="105.2" x2="495.1" y2="245.95" stroke="#EAEAEA" stroke-width="0.6"/>
<line x1="462.01" y1="221.17" x2="500.91" y2="221.17" stroke="#EAEAEA" stroke-width="0.6"/>
<line x1="462.01" y1="183.2" x2="500.91" y2="183.2" stroke="#EAEAEA" stroke-width="0.6"/>
<line x1="462.01" y1="145.24" x2="500.91" y2="145.24" stroke="#EAEAEA" stroke-width="0.6"/>
<line x1="462.01" y1="107.27" x2="500.91" y2="107.27" stroke="#EAEAEA" stroke-width="0.6"/>
<line x1="467.46" y1="105.2" x2="467.46" y2="245.95" stroke="#E4E4E4" stroke-width="0.8"/>
<line x1="475.36" y1="105.2" x2="475.36" y2="245.95" stroke="#E4E4E4" stroke-width="0.8"/>
<line x1="483.26" y1="105.2" x2="483.26" y2="245.95" stroke="#E4E4E4" stroke-width="0.8"/>
<line x1="491.16" y1="105.2" x2="491.16" y2="245.95" stroke="#E4E4E4" stroke-width="0.8"/>
<line x1="499.05" y1="105.2" x2="499.05" y2="245.95" stroke="#E4E4E4" stroke-width="0.8"/>
<line x1="462.01" y1="240.15" x2="500.91" y2="240.15" stroke="#E4E4E4" stroke-width="0.8"/>
<line x1="462.01" y1="202.19" x2="500.91" y2="202.19" stroke="#E4E4E4" stroke-width="0.8"/>
<line x1="462.01" y1="164.22" x2="500.91" y2="164.22" stroke="#E4E4E4" stroke-width="0.8"/>
<line x1="462.01" y1="126.26" x2="500.91" y2="126.26" stroke="#E4E4E4" stroke-width="0.8"/>
<line x1="485.23" y1="240.15" x2="497.08" y2="240.15" stroke="#444444" stroke-width="0.8"/>
<rect x="465.49" y="214.33" width="3.95" height="25.82" fill="#939393" stroke="#1a1a1a" stroke-width="0.7"/>
<rect x="469.43" y="175.61" width="3.95" height="64.54" fill="#939393" stroke="#1a1a1a" stroke-width="0.7"/>
<rect x="473.38" y="197.25" width="3.95" height="42.9" fill="#939393" stroke="#1a1a1a" stroke-width="0.7"/>
<rect x="477.33" y="224.2" width="3.95" height="15.95" fill="#939393" stroke="#1a1a1a" stroke-width="0.7"/>
<rect x="481.28" y="236.58" width="3.95" height="3.57" fill="#939393" stroke="#1a1a1a" stroke-width="0.7"/>
<line x1="462.01" y1="105.2" x2="500.91" y2="105.2" stroke="#8a8a8a" stroke-width="0.8"/>
<line x1="462.01" y1="105.2" x2="462.01" y2="245.95" stroke="#8a8a8a" stroke-width="0.8"/>
<line x1="461.61" y1="245.95" x2="501.31" y2="245.95" stroke="#222222" stroke-width="0.8"/>
<line x1="500.91" y1="104.8" x2="500.91" y2="245.95" stroke="#222222" stroke-width="0.8"/>
<line x1="500.91" y1="240.15" x2="502.51" y2="240.15" stroke="#222222" stroke-width="0.75"/>
<text x="504.11" y="242.6" font-size="6" text-anchor="start" font-weight="normal" fill="#2e2e2e" stroke="#2e2e2e" stroke-width="0.3">0</text>
<line x1="500.91" y1="202.19" x2="502.51" y2="202.19" stroke="#222222" stroke-width="0.75"/>
<text x="504.11" y="204.63" font-size="6" text-anchor="start" font-weight="normal" fill="#2e2e2e" stroke="#2e2e2e" stroke-width="0.3">50</text>
<line x1="500.91" y1="164.22" x2="502.51" y2="164.22" stroke="#222222" stroke-width="0.75"/>
<text x="504.11" y="166.67" font-size="6" text-anchor="start" font-weight="normal" fill="#2e2e2e" stroke="#2e2e2e" stroke-width="0.3">100</text>
<line x1="500.91" y1="126.26" x2="502.51" y2="126.26" stroke="#222222" stroke-width="0.75"/>
<text x="504.11" y="128.71" font-size="6" text-anchor="start" font-weight="normal" fill="#2e2e2e" stroke="#2e2e2e" stroke-width="0.3">150</text>
<line x1="467.46" y1="245.95" x2="467.46" y2="247.55" stroke="#222222" stroke-width="0.75"/>
<text x="467.46" y="254.75" font-size="6" text-anchor="middle" font-weight="normal" fill="#2e2e2e" stroke="#2e2e2e" stroke-width="0.3">0</text>
<line x1="475.36" y1="245.95" x2="475.36" y2="247.55" stroke="#222222" stroke-width="0.75"/>
<text x="475.36" y="254.75" font-size="6" text-anchor="middle" font-weight="normal" fill="#2e2e2e" stroke="#2e2e2e" stroke-width="0.3">2</text>
<line x1="483.26" y1="245.95" x2="483.26" y2="247.55" stroke="#222222" stroke-width="0.75"/>
<text x="483.26" y="254.75" font-size="6" text-anchor="middle" font-weight="normal" fill="#2e2e2e" stroke="#2e2e2e" stroke-width="0.3">4</text>
<line x1="491.16" y1="245.95" x2="491.16" y2="247.55" stroke="#222222" stroke-width="0.75"/>
<text x="491.16" y="254.75" font-size="6" text-anchor="middle" font-weight="normal" fill="#2e2e2e" stroke="#2e2e2e" stroke-width="0.3">6</text>
<line x1="499.05" y1="245.95" x2="499.05" y2="247.55" stroke="#222222" stroke-width="0.75"/>
<text x="499.05" y="254.75" font-size="6" text-anchor="middle" font-weight="normal" fill="#2e2e2e" stroke="#2e2e2e" stroke-width="0.3">8</text>
<text x="481.46" y="91.6" font-size="7.6" text-anchor="middle" font-weight="bold" fill="#000" stroke="#000" stroke-width="0.2">TP53</text>
<text x="481.46" y="101.4" font-size="7.6" text-anchor="middle" font-weight="bold" fill="#000" stroke="#000" stroke-width="0.2">aneuploidy</text>
<line x1="3.37" y1="364.9" x2="3.37" y2="505.9" stroke="#EAEAEA" stroke-width="0.6"/>
<line x1="11.27" y1="364.9" x2="11.27" y2="505.9" stroke="#EAEAEA" stroke-width="0.6"/>
<line x1="19.17" y1="364.9" x2="19.17" y2="505.9" stroke="#EAEAEA" stroke-width="0.6"/>
<line x1="27.07" y1="364.9" x2="27.07" y2="505.9" stroke="#EAEAEA" stroke-width="0.6"/>
<line x1="34.96" y1="364.9" x2="34.96" y2="505.9" stroke="#EAEAEA" stroke-width="0.6"/>
<line x1="1.87" y1="481.12" x2="40.77" y2="481.12" stroke="#EAEAEA" stroke-width="0.6"/>
<line x1="1.87" y1="443.15" x2="40.77" y2="443.15" stroke="#EAEAEA" stroke-width="0.6"/>
<line x1="1.87" y1="405.19" x2="40.77" y2="405.19" stroke="#EAEAEA" stroke-width="0.6"/>
<line x1="1.87" y1="367.22" x2="40.77" y2="367.22" stroke="#EAEAEA" stroke-width="0.6"/>
<line x1="7.32" y1="364.9" x2="7.32" y2="505.9" stroke="#E4E4E4" stroke-width="0.8"/>
<line x1="15.22" y1="364.9" x2="15.22" y2="505.9" stroke="#E4E4E4" stroke-width="0.8"/>
<line x1="23.12" y1="364.9" x2="23.12" y2="505.9" stroke="#E4E4E4" stroke-width="0.8"/>
<line x1="31.02" y1="364.9" x2="31.02" y2="505.9" stroke="#E4E4E4" stroke-width="0.8"/>
<line x1="38.91" y1="364.9" x2="38.91" y2="505.9" stroke="#E4E4E4" stroke-width="0.8"/>
<line x1="1.87" y1="500.1" x2="40.77" y2="500.1" stroke="#E4E4E4" stroke-width="0.8"/>
<line x1="1.87" y1="462.14" x2="40.77" y2="462.14" stroke="#E4E4E4" stroke-width="0.8"/>
<line x1="1.87" y1="424.17" x2="40.77" y2="424.17" stroke="#E4E4E4" stroke-width="0.8"/>
<line x1="1.87" y1="386.21" x2="40.77" y2="386.21" stroke="#E4E4E4" stroke-width="0.8"/>
<line x1="5.35" y1="500.1" x2="9.29" y2="500.1" stroke="#444444" stroke-width="0.8"/>
<rect x="9.29" y="489.47" width="3.95" height="10.63" fill="#939393" stroke="#1a1a1a" stroke-width="0.7"/>
<rect x="13.24" y="452.26" width="3.95" height="47.84" fill="#939393" stroke="#1a1a1a" stroke-width="0.7"/>
<rect x="17.19" y="376.71" width="3.95" height="123.39" fill="#939393" stroke="#1a1a1a" stroke-width="0.7"/>
<rect x="21.14" y="408.98" width="3.95" height="91.12" fill="#939393" stroke="#1a1a1a" stroke-width="0.7"/>
<rect x="25.09" y="466.69" width="3.95" height="33.41" fill="#939393" stroke="#1a1a1a" stroke-width="0.7"/>
<rect x="29.04" y="490.61" width="3.95" height="9.49" fill="#939393" stroke="#1a1a1a" stroke-width="0.7"/>
<rect x="32.99" y="498.58" width="3.95" height="1.52" fill="#939393" stroke="#1a1a1a" stroke-width="0.7"/>
<line x1="1.87" y1="364.9" x2="40.77" y2="364.9" stroke="#8a8a8a" stroke-width="0.8"/>
<line x1="1.87" y1="364.9" x2="1.87" y2="505.9" stroke="#8a8a8a" stroke-width="0.8"/>
<line x1="1.47" y1="505.9" x2="41.17" y2="505.9" stroke="#222222" stroke-width="0.8"/>
<line x1="40.77" y1="364.5" x2="40.77" y2="505.9" stroke="#222222" stroke-width="0.8"/>
<line x1="40.77" y1="500.1" x2="42.37" y2="500.1" stroke="#222222" stroke-width="0.75"/>
<text x="43.97" y="502.55" font-size="6" text-anchor="start" font-weight="normal" fill="#2e2e2e" stroke="#2e2e2e" stroke-width="0.3">0</text>
<line x1="40.77" y1="462.14" x2="42.37" y2="462.14" stroke="#222222" stroke-width="0.75"/>
<text x="43.97" y="464.59" font-size="6" text-anchor="start" font-weight="normal" fill="#2e2e2e" stroke="#2e2e2e" stroke-width="0.3">50</text>
<line x1="40.77" y1="424.17" x2="42.37" y2="424.17" stroke="#222222" stroke-width="0.75"/>
<text x="43.97" y="426.62" font-size="6" text-anchor="start" font-weight="normal" fill="#2e2e2e" stroke="#2e2e2e" stroke-width="0.3">100</text>
<line x1="40.77" y1="386.21" x2="42.37" y2="386.21" stroke="#222222" stroke-width="0.75"/>
<text x="43.97" y="388.66" font-size="6" text-anchor="start" font-weight="normal" fill="#2e2e2e" stroke="#2e2e2e" stroke-width="0.3">150</text>
<line x1="7.32" y1="505.9" x2="7.32" y2="507.5" stroke="#222222" stroke-width="0.75"/>
<text x="7.32" y="514.7" font-size="6" text-anchor="middle" font-weight="normal" fill="#2e2e2e" stroke="#2e2e2e" stroke-width="0.3">0</text>
<line x1="15.22" y1="505.9" x2="15.22" y2="507.5" stroke="#222222" stroke-width="0.75"/>
<text x="15.22" y="514.7" font-size="6" text-anchor="middle" font-weight="normal" fill="#2e2e2e" stroke="#2e2e2e" stroke-width="0.3">2</text>
<line x1="23.12" y1="505.9" x2="23.12" y2="507.5" stroke="#222222" stroke-width="0.75"/>
<text x="23.12" y="514.7" font-size="6" text-anchor="middle" font-weight="normal" fill="#2e2e2e" stroke="#2e2e2e" stroke-width="0.3">4</text>
<line x1="31.02" y1="505.9" x2="31.02" y2="507.5" stroke="#222222" stroke-width="0.75"/>
<text x="31.02" y="514.7" font-size="6" text-anchor="middle" font-weight="normal" fill="#2e2e2e" stroke="#2e2e2e" stroke-width="0.3">6</text>
<line x1="38.91" y1="505.9" x2="38.91" y2="507.5" stroke="#222222" stroke-width="0.75"/>
<text x="38.91" y="514.7" font-size="6" text-anchor="middle" font-weight="normal" fill="#2e2e2e" stroke="#2e2e2e" stroke-width="0.3">8</text>
<text x="21.32" y="361.3" font-size="7.6" text-anchor="middle" font-weight="bold" fill="#000" stroke="#000" stroke-width="0.2">NPM1</text>
<line x1="80.15" y1="364.9" x2="80.15" y2="505.9" stroke="#EAEAEA" stroke-width="0.6"/>
<line x1="88.05" y1="364.9" x2="88.05" y2="505.9" stroke="#EAEAEA" stroke-width="0.6"/>
<line x1="95.95" y1="364.9" x2="95.95" y2="505.9" stroke="#EAEAEA" stroke-width="0.6"/>
<line x1="103.85" y1="364.9" x2="103.85" y2="505.9" stroke="#EAEAEA" stroke-width="0.6"/>
<line x1="111.74" y1="364.9" x2="111.74" y2="505.9" stroke="#EAEAEA" stroke-width="0.6"/>
<line x1="78.65" y1="481.12" x2="117.55" y2="481.12" stroke="#EAEAEA" stroke-width="0.6"/>
<line x1="78.65" y1="443.15" x2="117.55" y2="443.15" stroke="#EAEAEA" stroke-width="0.6"/>
<line x1="78.65" y1="405.19" x2="117.55" y2="405.19" stroke="#EAEAEA" stroke-width="0.6"/>
<line x1="78.65" y1="367.22" x2="117.55" y2="367.22" stroke="#EAEAEA" stroke-width="0.6"/>
<line x1="84.1" y1="364.9" x2="84.1" y2="505.9" stroke="#E4E4E4" stroke-width="0.8"/>
<line x1="92" y1="364.9" x2="92" y2="505.9" stroke="#E4E4E4" stroke-width="0.8"/>
<line x1="99.9" y1="364.9" x2="99.9" y2="505.9" stroke="#E4E4E4" stroke-width="0.8"/>
<line x1="107.8" y1="364.9" x2="107.8" y2="505.9" stroke="#E4E4E4" stroke-width="0.8"/>
<line x1="115.69" y1="364.9" x2="115.69" y2="505.9" stroke="#E4E4E4" stroke-width="0.8"/>
<line x1="78.65" y1="500.1" x2="117.55" y2="500.1" stroke="#E4E4E4" stroke-width="0.8"/>
<line x1="78.65" y1="462.14" x2="117.55" y2="462.14" stroke="#E4E4E4" stroke-width="0.8"/>
<line x1="78.65" y1="424.17" x2="117.55" y2="424.17" stroke="#E4E4E4" stroke-width="0.8"/>
<line x1="78.65" y1="386.21" x2="117.55" y2="386.21" stroke="#E4E4E4" stroke-width="0.8"/>
<line x1="82.13" y1="500.1" x2="86.07" y2="500.1" stroke="#444444" stroke-width="0.8"/>
<line x1="105.82" y1="500.1" x2="113.72" y2="500.1" stroke="#444444" stroke-width="0.8"/>
<rect x="86.07" y="488.33" width="3.95" height="11.77" fill="#939393" stroke="#1a1a1a" stroke-width="0.7"/>
<rect x="90.02" y="484.91" width="3.95" height="15.19" fill="#939393" stroke="#1a1a1a" stroke-width="0.7"/>
<rect x="93.97" y="487.19" width="3.95" height="12.91" fill="#939393" stroke="#1a1a1a" stroke-width="0.7"/>
<rect x="97.92" y="491.75" width="3.95" height="8.35" fill="#939393" stroke="#1a1a1a" stroke-width="0.7"/>
<rect x="101.87" y="497.06" width="3.95" height="3.04" fill="#939393" stroke="#1a1a1a" stroke-width="0.7"/>
<line x1="78.65" y1="364.9" x2="117.55" y2="364.9" stroke="#8a8a8a" stroke-width="0.8"/>
<line x1="78.65" y1="364.9" x2="78.65" y2="505.9" stroke="#8a8a8a" stroke-width="0.8"/>
<line x1="78.25" y1="505.9" x2="117.95" y2="505.9" stroke="#222222" stroke-width="0.8"/>
<line x1="117.55" y1="364.5" x2="117.55" y2="505.9" stroke="#222222" stroke-width="0.8"/>
<line x1="117.55" y1="500.1" x2="119.15" y2="500.1" stroke="#222222" stroke-width="0.75"/>
<text x="120.75" y="502.55" font-size="6" text-anchor="start" font-weight="normal" fill="#2e2e2e" stroke="#2e2e2e" stroke-width="0.3">0</text>
<line x1="117.55" y1="462.14" x2="119.15" y2="462.14" stroke="#222222" stroke-width="0.75"/>
<text x="120.75" y="464.59" font-size="6" text-anchor="start" font-weight="normal" fill="#2e2e2e" stroke="#2e2e2e" stroke-width="0.3">50</text>
<line x1="117.55" y1="424.17" x2="119.15" y2="424.17" stroke="#222222" stroke-width="0.75"/>
<text x="120.75" y="426.62" font-size="6" text-anchor="start" font-weight="normal" fill="#2e2e2e" stroke="#2e2e2e" stroke-width="0.3">100</text>
<line x1="117.55" y1="386.21" x2="119.15" y2="386.21" stroke="#222222" stroke-width="0.75"/>
<text x="120.75" y="388.66" font-size="6" text-anchor="start" font-weight="normal" fill="#2e2e2e" stroke="#2e2e2e" stroke-width="0.3">150</text>
<line x1="84.1" y1="505.9" x2="84.1" y2="507.5" stroke="#222222" stroke-width="0.75"/>
<text x="84.1" y="514.7" font-size="6" text-anchor="middle" font-weight="normal" fill="#2e2e2e" stroke="#2e2e2e" stroke-width="0.3">0</text>
<line x1="92" y1="505.9" x2="92" y2="507.5" stroke="#222222" stroke-width="0.75"/>
<text x="92" y="514.7" font-size="6" text-anchor="middle" font-weight="normal" fill="#2e2e2e" stroke="#2e2e2e" stroke-width="0.3">2</text>
<line x1="99.9" y1="505.9" x2="99.9" y2="507.5" stroke="#222222" stroke-width="0.75"/>
<text x="99.9" y="514.7" font-size="6" text-anchor="middle" font-weight="normal" fill="#2e2e2e" stroke="#2e2e2e" stroke-width="0.3">4</text>
<line x1="107.8" y1="505.9" x2="107.8" y2="507.5" stroke="#222222" stroke-width="0.75"/>
<text x="107.8" y="514.7" font-size="6" text-anchor="middle" font-weight="normal" fill="#2e2e2e" stroke="#2e2e2e" stroke-width="0.3">6</text>
<line x1="115.69" y1="505.9" x2="115.69" y2="507.5" stroke="#222222" stroke-width="0.75"/>
<text x="115.69" y="514.7" font-size="6" text-anchor="middle" font-weight="normal" fill="#2e2e2e" stroke="#2e2e2e" stroke-width="0.3">8</text>
<text x="98.1" y="361.3" font-size="7.6" text-anchor="middle" font-weight="bold" fill="#000" stroke="#000" stroke-width="0.2">CEBPA_bi</text>
<line x1="156.93" y1="364.9" x2="156.93" y2="505.9" stroke="#EAEAEA" stroke-width="0.6"/>
<line x1="164.83" y1="364.9" x2="164.83" y2="505.9" stroke="#EAEAEA" stroke-width="0.6"/>
<line x1="172.73" y1="364.9" x2="172.73" y2="505.9" stroke="#EAEAEA" stroke-width="0.6"/>
<line x1="180.63" y1="364.9" x2="180.63" y2="505.9" stroke="#EAEAEA" stroke-width="0.6"/>
<line x1="188.52" y1="364.9" x2="188.52" y2="505.9" stroke="#EAEAEA" stroke-width="0.6"/>
<line x1="155.43" y1="481.12" x2="194.33" y2="481.12" stroke="#EAEAEA" stroke-width="0.6"/>
<line x1="155.43" y1="443.15" x2="194.33" y2="443.15" stroke="#EAEAEA" stroke-width="0.6"/>
<line x1="155.43" y1="405.19" x2="194.33" y2="405.19" stroke="#EAEAEA" stroke-width="0.6"/>
<line x1="155.43" y1="367.22" x2="194.33" y2="367.22" stroke="#EAEAEA" stroke-width="0.6"/>
<line x1="160.88" y1="364.9" x2="160.88" y2="505.9" stroke="#E4E4E4" stroke-width="0.8"/>
<line x1="168.78" y1="364.9" x2="168.78" y2="505.9" stroke="#E4E4E4" stroke-width="0.8"/>
<line x1="176.68" y1="364.9" x2="176.68" y2="505.9" stroke="#E4E4E4" stroke-width="0.8"/>
<line x1="184.58" y1="364.9" x2="184.58" y2="505.9" stroke="#E4E4E4" stroke-width="0.8"/>
<line x1="192.47" y1="364.9" x2="192.47" y2="505.9" stroke="#E4E4E4" stroke-width="0.8"/>
<line x1="155.43" y1="500.1" x2="194.33" y2="500.1" stroke="#E4E4E4" stroke-width="0.8"/>
<line x1="155.43" y1="462.14" x2="194.33" y2="462.14" stroke="#E4E4E4" stroke-width="0.8"/>
<line x1="155.43" y1="424.17" x2="194.33" y2="424.17" stroke="#E4E4E4" stroke-width="0.8"/>
<line x1="155.43" y1="386.21" x2="194.33" y2="386.21" stroke="#E4E4E4" stroke-width="0.8"/>
<line x1="158.91" y1="500.1" x2="162.85" y2="500.1" stroke="#444444" stroke-width="0.8"/>
<rect x="162.85" y="475.04" width="3.95" height="25.06" fill="#939393" stroke="#1a1a1a" stroke-width="0.7"/>
<rect x="166.8" y="447.33" width="3.95" height="52.77" fill="#939393" stroke="#1a1a1a" stroke-width="0.7"/>
<rect x="170.75" y="442.77" width="3.95" height="57.33" fill="#939393" stroke="#1a1a1a" stroke-width="0.7"/>
<rect x="174.7" y="458.34" width="3.95" height="41.76" fill="#939393" stroke="#1a1a1a" stroke-width="0.7"/>
<rect x="178.65" y="481.5" width="3.95" height="18.6" fill="#939393" stroke="#1a1a1a" stroke-width="0.7"/>
<rect x="182.6" y="488.71" width="3.95" height="11.39" fill="#939393" stroke="#1a1a1a" stroke-width="0.7"/>
<rect x="186.55" y="498.2" width="3.95" height="1.9" fill="#939393" stroke="#1a1a1a" stroke-width="0.7"/>
<line x1="155.43" y1="364.9" x2="194.33" y2="364.9" stroke="#8a8a8a" stroke-width="0.8"/>
<line x1="155.43" y1="364.9" x2="155.43" y2="505.9" stroke="#8a8a8a" stroke-width="0.8"/>
<line x1="155.03" y1="505.9" x2="194.73" y2="505.9" stroke="#222222" stroke-width="0.8"/>
<line x1="194.33" y1="364.5" x2="194.33" y2="505.9" stroke="#222222" stroke-width="0.8"/>
<line x1="194.33" y1="500.1" x2="195.93" y2="500.1" stroke="#222222" stroke-width="0.75"/>
<text x="197.53" y="502.55" font-size="6" text-anchor="start" font-weight="normal" fill="#2e2e2e" stroke="#2e2e2e" stroke-width="0.3">0</text>
<line x1="194.33" y1="462.14" x2="195.93" y2="462.14" stroke="#222222" stroke-width="0.75"/>
<text x="197.53" y="464.59" font-size="6" text-anchor="start" font-weight="normal" fill="#2e2e2e" stroke="#2e2e2e" stroke-width="0.3">50</text>
<line x1="194.33" y1="424.17" x2="195.93" y2="424.17" stroke="#222222" stroke-width="0.75"/>
<text x="197.53" y="426.62" font-size="6" text-anchor="start" font-weight="normal" fill="#2e2e2e" stroke="#2e2e2e" stroke-width="0.3">100</text>
<line x1="194.33" y1="386.21" x2="195.93" y2="386.21" stroke="#222222" stroke-width="0.75"/>
<text x="197.53" y="388.66" font-size="6" text-anchor="start" font-weight="normal" fill="#2e2e2e" stroke="#2e2e2e" stroke-width="0.3">150</text>
<line x1="160.88" y1="505.9" x2="160.88" y2="507.5" stroke="#222222" stroke-width="0.75"/>
<text x="160.88" y="514.7" font-size="6" text-anchor="middle" font-weight="normal" fill="#2e2e2e" stroke="#2e2e2e" stroke-width="0.3">0</text>
<line x1="168.78" y1="505.9" x2="168.78" y2="507.5" stroke="#222222" stroke-width="0.75"/>
<text x="168.78" y="514.7" font-size="6" text-anchor="middle" font-weight="normal" fill="#2e2e2e" stroke="#2e2e2e" stroke-width="0.3">2</text>
<line x1="176.68" y1="505.9" x2="176.68" y2="507.5" stroke="#222222" stroke-width="0.75"/>
<text x="176.68" y="514.7" font-size="6" text-anchor="middle" font-weight="normal" fill="#2e2e2e" stroke="#2e2e2e" stroke-width="0.3">4</text>
<line x1="184.58" y1="505.9" x2="184.58" y2="507.5" stroke="#222222" stroke-width="0.75"/>
<text x="184.58" y="514.7" font-size="6" text-anchor="middle" font-weight="normal" fill="#2e2e2e" stroke="#2e2e2e" stroke-width="0.3">6</text>
<line x1="192.47" y1="505.9" x2="192.47" y2="507.5" stroke="#222222" stroke-width="0.75"/>
<text x="192.47" y="514.7" font-size="6" text-anchor="middle" font-weight="normal" fill="#2e2e2e" stroke="#2e2e2e" stroke-width="0.3">8</text>
<text x="174.88" y="351.5" font-size="7.6" text-anchor="middle" font-weight="bold" fill="#000" stroke="#000" stroke-width="0.2">Chromatin</text>
<text x="174.88" y="361.3" font-size="7.6" text-anchor="middle" font-weight="bold" fill="#000" stroke="#000" stroke-width="0.2">Spliceosome</text>
<line x1="233.71" y1="364.9" x2="233.71" y2="505.9" stroke="#EAEAEA" stroke-width="0.6"/>
<line x1="241.61" y1="364.9" x2="241.61" y2="505.9" stroke="#EAEAEA" stroke-width="0.6"/>
<line x1="249.51" y1="364.9" x2="249.51" y2="505.9" stroke="#EAEAEA" stroke-width="0.6"/>
<line x1="257.41" y1="364.9" x2="257.41" y2="505.9" stroke="#EAEAEA" stroke-width="0.6"/>
<line x1="265.3" y1="364.9" x2="265.3" y2="505.9" stroke="#EAEAEA" stroke-width="0.6"/>
<line x1="232.21" y1="481.12" x2="271.11" y2="481.12" stroke="#EAEAEA" stroke-width="0.6"/>
<line x1="232.21" y1="443.15" x2="271.11" y2="443.15" stroke="#EAEAEA" stroke-width="0.6"/>
<line x1="232.21" y1="405.19" x2="271.11" y2="405.19" stroke="#EAEAEA" stroke-width="0.6"/>
<line x1="232.21" y1="367.22" x2="271.11" y2="367.22" stroke="#EAEAEA" stroke-width="0.6"/>
<line x1="237.66" y1="364.9" x2="237.66" y2="505.9" stroke="#E4E4E4" stroke-width="0.8"/>
<line x1="245.56" y1="364.9" x2="245.56" y2="505.9" stroke="#E4E4E4" stroke-width="0.8"/>
<line x1="253.46" y1="364.9" x2="253.46" y2="505.9" stroke="#E4E4E4" stroke-width="0.8"/>
<line x1="261.36" y1="364.9" x2="261.36" y2="505.9" stroke="#E4E4E4" stroke-width="0.8"/>
<line x1="269.25" y1="364.9" x2="269.25" y2="505.9" stroke="#E4E4E4" stroke-width="0.8"/>
<line x1="232.21" y1="500.1" x2="271.11" y2="500.1" stroke="#E4E4E4" stroke-width="0.8"/>
<line x1="232.21" y1="462.14" x2="271.11" y2="462.14" stroke="#E4E4E4" stroke-width="0.8"/>
<line x1="232.21" y1="424.17" x2="271.11" y2="424.17" stroke="#E4E4E4" stroke-width="0.8"/>
<line x1="232.21" y1="386.21" x2="271.11" y2="386.21" stroke="#E4E4E4" stroke-width="0.8"/>
<line x1="235.69" y1="500.1" x2="239.63" y2="500.1" stroke="#444444" stroke-width="0.8"/>
<line x1="251.48" y1="500.1" x2="255.43" y2="500.1" stroke="#444444" stroke-width="0.8"/>
<line x1="259.38" y1="500.1" x2="267.28" y2="500.1" stroke="#444444" stroke-width="0.8"/>
<rect x="239.63" y="497.59" width="3.95" height="2.51" fill="#939393" stroke="#1a1a1a" stroke-width="0.7"/>
<rect x="243.58" y="492.2" width="3.95" height="7.9" fill="#939393" stroke="#1a1a1a" stroke-width="0.7"/>
<rect x="247.53" y="496.23" width="3.95" height="3.87" fill="#939393" stroke="#1a1a1a" stroke-width="0.7"/>
<rect x="255.43" y="498.81" width="3.95" height="1.29" fill="#939393" stroke="#1a1a1a" stroke-width="0.7"/>
<line x1="232.21" y1="364.9" x2="271.11" y2="364.9" stroke="#8a8a8a" stroke-width="0.8"/>
<line x1="232.21" y1="364.9" x2="232.21" y2="505.9" stroke="#8a8a8a" stroke-width="0.8"/>
<line x1="231.81" y1="505.9" x2="271.51" y2="505.9" stroke="#222222" stroke-width="0.8"/>
<line x1="271.11" y1="364.5" x2="271.11" y2="505.9" stroke="#222222" stroke-width="0.8"/>
<line x1="271.11" y1="500.1" x2="272.71" y2="500.1" stroke="#222222" stroke-width="0.75"/>
<text x="274.31" y="502.55" font-size="6" text-anchor="start" font-weight="normal" fill="#2e2e2e" stroke="#2e2e2e" stroke-width="0.3">0</text>
<line x1="271.11" y1="462.14" x2="272.71" y2="462.14" stroke="#222222" stroke-width="0.75"/>
<text x="274.31" y="464.59" font-size="6" text-anchor="start" font-weight="normal" fill="#2e2e2e" stroke="#2e2e2e" stroke-width="0.3">50</text>
<line x1="271.11" y1="424.17" x2="272.71" y2="424.17" stroke="#222222" stroke-width="0.75"/>
<text x="274.31" y="426.62" font-size="6" text-anchor="start" font-weight="normal" fill="#2e2e2e" stroke="#2e2e2e" stroke-width="0.3">100</text>
<line x1="271.11" y1="386.21" x2="272.71" y2="386.21" stroke="#222222" stroke-width="0.75"/>
<text x="274.31" y="388.66" font-size="6" text-anchor="start" font-weight="normal" fill="#2e2e2e" stroke="#2e2e2e" stroke-width="0.3">150</text>
<line x1="237.66" y1="505.9" x2="237.66" y2="507.5" stroke="#222222" stroke-width="0.75"/>
<text x="237.66" y="514.7" font-size="6" text-anchor="middle" font-weight="normal" fill="#2e2e2e" stroke="#2e2e2e" stroke-width="0.3">0</text>
<line x1="245.56" y1="505.9" x2="245.56" y2="507.5" stroke="#222222" stroke-width="0.75"/>
<text x="245.56" y="514.7" font-size="6" text-anchor="middle" font-weight="normal" fill="#2e2e2e" stroke="#2e2e2e" stroke-width="0.3">2</text>
<line x1="253.46" y1="505.9" x2="253.46" y2="507.5" stroke="#222222" stroke-width="0.75"/>
<text x="253.46" y="514.7" font-size="6" text-anchor="middle" font-weight="normal" fill="#2e2e2e" stroke="#2e2e2e" stroke-width="0.3">4</text>
<line x1="261.36" y1="505.9" x2="261.36" y2="507.5" stroke="#222222" stroke-width="0.75"/>
<text x="261.36" y="514.7" font-size="6" text-anchor="middle" font-weight="normal" fill="#2e2e2e" stroke="#2e2e2e" stroke-width="0.3">6</text>
<line x1="269.25" y1="505.9" x2="269.25" y2="507.5" stroke="#222222" stroke-width="0.75"/>
<text x="269.25" y="514.7" font-size="6" text-anchor="middle" font-weight="normal" fill="#2e2e2e" stroke="#2e2e2e" stroke-width="0.3">8</text>
<text x="251.66" y="361.3" font-size="7.6" text-anchor="middle" font-weight="bold" fill="#000" stroke="#000" stroke-width="0.2">IDH2_p172</text>
<line x1="310.49" y1="364.9" x2="310.49" y2="505.9" stroke="#EAEAEA" stroke-width="0.6"/>
<line x1="318.39" y1="364.9" x2="318.39" y2="505.9" stroke="#EAEAEA" stroke-width="0.6"/>
<line x1="326.29" y1="364.9" x2="326.29" y2="505.9" stroke="#EAEAEA" stroke-width="0.6"/>
<line x1="334.19" y1="364.9" x2="334.19" y2="505.9" stroke="#EAEAEA" stroke-width="0.6"/>
<line x1="342.08" y1="364.9" x2="342.08" y2="505.9" stroke="#EAEAEA" stroke-width="0.6"/>
<line x1="308.99" y1="481.12" x2="347.89" y2="481.12" stroke="#EAEAEA" stroke-width="0.6"/>
<line x1="308.99" y1="443.15" x2="347.89" y2="443.15" stroke="#EAEAEA" stroke-width="0.6"/>
<line x1="308.99" y1="405.19" x2="347.89" y2="405.19" stroke="#EAEAEA" stroke-width="0.6"/>
<line x1="308.99" y1="367.22" x2="347.89" y2="367.22" stroke="#EAEAEA" stroke-width="0.6"/>
<line x1="314.44" y1="364.9" x2="314.44" y2="505.9" stroke="#E4E4E4" stroke-width="0.8"/>
<line x1="322.34" y1="364.9" x2="322.34" y2="505.9" stroke="#E4E4E4" stroke-width="0.8"/>
<line x1="330.24" y1="364.9" x2="330.24" y2="505.9" stroke="#E4E4E4" stroke-width="0.8"/>
<line x1="338.14" y1="364.9" x2="338.14" y2="505.9" stroke="#E4E4E4" stroke-width="0.8"/>
<line x1="346.03" y1="364.9" x2="346.03" y2="505.9" stroke="#E4E4E4" stroke-width="0.8"/>
<line x1="308.99" y1="500.1" x2="347.89" y2="500.1" stroke="#E4E4E4" stroke-width="0.8"/>
<line x1="308.99" y1="462.14" x2="347.89" y2="462.14" stroke="#E4E4E4" stroke-width="0.8"/>
<line x1="308.99" y1="424.17" x2="347.89" y2="424.17" stroke="#E4E4E4" stroke-width="0.8"/>
<line x1="308.99" y1="386.21" x2="347.89" y2="386.21" stroke="#E4E4E4" stroke-width="0.8"/>
<rect x="312.47" y="497.75" width="3.95" height="2.35" fill="#939393" stroke="#1a1a1a" stroke-width="0.7"/>
<rect x="316.41" y="497.21" width="3.95" height="2.89" fill="#939393" stroke="#1a1a1a" stroke-width="0.7"/>
<rect x="320.36" y="490.84" width="3.95" height="9.26" fill="#939393" stroke="#1a1a1a" stroke-width="0.7"/>
<rect x="324.31" y="491.14" width="3.95" height="8.96" fill="#939393" stroke="#1a1a1a" stroke-width="0.7"/>
<rect x="328.26" y="487.57" width="3.95" height="12.53" fill="#939393" stroke="#1a1a1a" stroke-width="0.7"/>
<rect x="332.21" y="497.21" width="3.95" height="2.89" fill="#939393" stroke="#1a1a1a" stroke-width="0.7"/>
<rect x="336.16" y="497.06" width="3.95" height="3.04" fill="#939393" stroke="#1a1a1a" stroke-width="0.7"/>
<rect x="340.11" y="499.11" width="3.95" height="0.99" fill="#939393" stroke="#1a1a1a" stroke-width="0.7"/>
<line x1="308.99" y1="364.9" x2="347.89" y2="364.9" stroke="#8a8a8a" stroke-width="0.8"/>
<line x1="308.99" y1="364.9" x2="308.99" y2="505.9" stroke="#8a8a8a" stroke-width="0.8"/>
<line x1="308.59" y1="505.9" x2="348.29" y2="505.9" stroke="#222222" stroke-width="0.8"/>
<line x1="347.89" y1="364.5" x2="347.89" y2="505.9" stroke="#222222" stroke-width="0.8"/>
<line x1="347.89" y1="500.1" x2="349.49" y2="500.1" stroke="#222222" stroke-width="0.75"/>
<text x="351.09" y="502.55" font-size="6" text-anchor="start" font-weight="normal" fill="#2e2e2e" stroke="#2e2e2e" stroke-width="0.3">0</text>
<line x1="347.89" y1="462.14" x2="349.49" y2="462.14" stroke="#222222" stroke-width="0.75"/>
<text x="351.09" y="464.59" font-size="6" text-anchor="start" font-weight="normal" fill="#2e2e2e" stroke="#2e2e2e" stroke-width="0.3">50</text>
<line x1="347.89" y1="424.17" x2="349.49" y2="424.17" stroke="#222222" stroke-width="0.75"/>
<text x="351.09" y="426.62" font-size="6" text-anchor="start" font-weight="normal" fill="#2e2e2e" stroke="#2e2e2e" stroke-width="0.3">100</text>
<line x1="347.89" y1="386.21" x2="349.49" y2="386.21" stroke="#222222" stroke-width="0.75"/>
<text x="351.09" y="388.66" font-size="6" text-anchor="start" font-weight="normal" fill="#2e2e2e" stroke="#2e2e2e" stroke-width="0.3">150</text>
<line x1="314.44" y1="505.9" x2="314.44" y2="507.5" stroke="#222222" stroke-width="0.75"/>
<text x="314.44" y="514.7" font-size="6" text-anchor="middle" font-weight="normal" fill="#2e2e2e" stroke="#2e2e2e" stroke-width="0.3">0</text>
<line x1="322.34" y1="505.9" x2="322.34" y2="507.5" stroke="#222222" stroke-width="0.75"/>
<text x="322.34" y="514.7" font-size="6" text-anchor="middle" font-weight="normal" fill="#2e2e2e" stroke="#2e2e2e" stroke-width="0.3">2</text>
<line x1="330.24" y1="505.9" x2="330.24" y2="507.5" stroke="#222222" stroke-width="0.75"/>
<text x="330.24" y="514.7" font-size="6" text-anchor="middle" font-weight="normal" fill="#2e2e2e" stroke="#2e2e2e" stroke-width="0.3">4</text>
<line x1="338.14" y1="505.9" x2="338.14" y2="507.5" stroke="#222222" stroke-width="0.75"/>
<text x="338.14" y="514.7" font-size="6" text-anchor="middle" font-weight="normal" fill="#2e2e2e" stroke="#2e2e2e" stroke-width="0.3">6</text>
<line x1="346.03" y1="505.9" x2="346.03" y2="507.5" stroke="#222222" stroke-width="0.75"/>
<text x="346.03" y="514.7" font-size="6" text-anchor="middle" font-weight="normal" fill="#2e2e2e" stroke="#2e2e2e" stroke-width="0.3">8</text>
<text x="328.44" y="361.3" font-size="7.6" text-anchor="middle" font-weight="bold" fill="#000" stroke="#000" stroke-width="0.2">Ambiguous</text>
<line x1="387.27" y1="364.9" x2="387.27" y2="505.9" stroke="#EAEAEA" stroke-width="0.6"/>
<line x1="395.17" y1="364.9" x2="395.17" y2="505.9" stroke="#EAEAEA" stroke-width="0.6"/>
<line x1="403.07" y1="364.9" x2="403.07" y2="505.9" stroke="#EAEAEA" stroke-width="0.6"/>
<line x1="410.97" y1="364.9" x2="410.97" y2="505.9" stroke="#EAEAEA" stroke-width="0.6"/>
<line x1="418.86" y1="364.9" x2="418.86" y2="505.9" stroke="#EAEAEA" stroke-width="0.6"/>
<line x1="385.77" y1="481.12" x2="424.67" y2="481.12" stroke="#EAEAEA" stroke-width="0.6"/>
<line x1="385.77" y1="443.15" x2="424.67" y2="443.15" stroke="#EAEAEA" stroke-width="0.6"/>
<line x1="385.77" y1="405.19" x2="424.67" y2="405.19" stroke="#EAEAEA" stroke-width="0.6"/>
<line x1="385.77" y1="367.22" x2="424.67" y2="367.22" stroke="#EAEAEA" stroke-width="0.6"/>
<line x1="391.22" y1="364.9" x2="391.22" y2="505.9" stroke="#E4E4E4" stroke-width="0.8"/>
<line x1="399.12" y1="364.9" x2="399.12" y2="505.9" stroke="#E4E4E4" stroke-width="0.8"/>
<line x1="407.02" y1="364.9" x2="407.02" y2="505.9" stroke="#E4E4E4" stroke-width="0.8"/>
<line x1="414.92" y1="364.9" x2="414.92" y2="505.9" stroke="#E4E4E4" stroke-width="0.8"/>
<line x1="422.81" y1="364.9" x2="422.81" y2="505.9" stroke="#E4E4E4" stroke-width="0.8"/>
<line x1="385.77" y1="500.1" x2="424.67" y2="500.1" stroke="#E4E4E4" stroke-width="0.8"/>
<line x1="385.77" y1="462.14" x2="424.67" y2="462.14" stroke="#E4E4E4" stroke-width="0.8"/>
<line x1="385.77" y1="424.17" x2="424.67" y2="424.17" stroke="#E4E4E4" stroke-width="0.8"/>
<line x1="385.77" y1="386.21" x2="424.67" y2="386.21" stroke="#E4E4E4" stroke-width="0.8"/>
<line x1="389.25" y1="500.1" x2="393.19" y2="500.1" stroke="#444444" stroke-width="0.8"/>
<line x1="408.99" y1="500.1" x2="420.84" y2="500.1" stroke="#444444" stroke-width="0.8"/>
<rect x="393.19" y="446.95" width="3.95" height="53.15" fill="#939393" stroke="#1a1a1a" stroke-width="0.7"/>
<rect x="397.14" y="446.19" width="3.95" height="53.91" fill="#939393" stroke="#1a1a1a" stroke-width="0.7"/>
<rect x="401.09" y="484.53" width="3.95" height="15.57" fill="#939393" stroke="#1a1a1a" stroke-width="0.7"/>
<rect x="405.04" y="498.96" width="3.95" height="1.14" fill="#939393" stroke="#1a1a1a" stroke-width="0.7"/>
<line x1="385.77" y1="364.9" x2="424.67" y2="364.9" stroke="#8a8a8a" stroke-width="0.8"/>
<line x1="385.77" y1="364.9" x2="385.77" y2="505.9" stroke="#8a8a8a" stroke-width="0.8"/>
<line x1="385.37" y1="505.9" x2="425.07" y2="505.9" stroke="#222222" stroke-width="0.8"/>
<line x1="424.67" y1="364.5" x2="424.67" y2="505.9" stroke="#222222" stroke-width="0.8"/>
<line x1="424.67" y1="500.1" x2="426.27" y2="500.1" stroke="#222222" stroke-width="0.75"/>
<text x="427.87" y="502.55" font-size="6" text-anchor="start" font-weight="normal" fill="#2e2e2e" stroke="#2e2e2e" stroke-width="0.3">0</text>
<line x1="424.67" y1="462.14" x2="426.27" y2="462.14" stroke="#222222" stroke-width="0.75"/>
<text x="427.87" y="464.59" font-size="6" text-anchor="start" font-weight="normal" fill="#2e2e2e" stroke="#2e2e2e" stroke-width="0.3">50</text>
<line x1="424.67" y1="424.17" x2="426.27" y2="424.17" stroke="#222222" stroke-width="0.75"/>
<text x="427.87" y="426.62" font-size="6" text-anchor="start" font-weight="normal" fill="#2e2e2e" stroke="#2e2e2e" stroke-width="0.3">100</text>
<line x1="424.67" y1="386.21" x2="426.27" y2="386.21" stroke="#222222" stroke-width="0.75"/>
<text x="427.87" y="388.66" font-size="6" text-anchor="start" font-weight="normal" fill="#2e2e2e" stroke="#2e2e2e" stroke-width="0.3">150</text>
<line x1="391.22" y1="505.9" x2="391.22" y2="507.5" stroke="#222222" stroke-width="0.75"/>
<text x="391.22" y="514.7" font-size="6" text-anchor="middle" font-weight="normal" fill="#2e2e2e" stroke="#2e2e2e" stroke-width="0.3">0</text>
<line x1="399.12" y1="505.9" x2="399.12" y2="507.5" stroke="#222222" stroke-width="0.75"/>
<text x="399.12" y="514.7" font-size="6" text-anchor="middle" font-weight="normal" fill="#2e2e2e" stroke="#2e2e2e" stroke-width="0.3">2</text>
<line x1="407.02" y1="505.9" x2="407.02" y2="507.5" stroke="#222222" stroke-width="0.75"/>
<text x="407.02" y="514.7" font-size="6" text-anchor="middle" font-weight="normal" fill="#2e2e2e" stroke="#2e2e2e" stroke-width="0.3">4</text>
<line x1="414.92" y1="505.9" x2="414.92" y2="507.5" stroke="#222222" stroke-width="0.75"/>
<text x="414.92" y="514.7" font-size="6" text-anchor="middle" font-weight="normal" fill="#2e2e2e" stroke="#2e2e2e" stroke-width="0.3">6</text>
<line x1="422.81" y1="505.9" x2="422.81" y2="507.5" stroke="#222222" stroke-width="0.75"/>
<text x="422.81" y="514.7" font-size="6" text-anchor="middle" font-weight="normal" fill="#2e2e2e" stroke="#2e2e2e" stroke-width="0.3">8</text>
<text x="405.22" y="361.3" font-size="7.6" text-anchor="middle" font-weight="bold" fill="#000" stroke="#000" stroke-width="0.2">No class</text>
<line x1="464.05" y1="364.9" x2="464.05" y2="505.9" stroke="#EAEAEA" stroke-width="0.6"/>
<line x1="471.95" y1="364.9" x2="471.95" y2="505.9" stroke="#EAEAEA" stroke-width="0.6"/>
<line x1="479.85" y1="364.9" x2="479.85" y2="505.9" stroke="#EAEAEA" stroke-width="0.6"/>
<line x1="487.75" y1="364.9" x2="487.75" y2="505.9" stroke="#EAEAEA" stroke-width="0.6"/>
<line x1="495.64" y1="364.9" x2="495.64" y2="505.9" stroke="#EAEAEA" stroke-width="0.6"/>
<line x1="462.55" y1="481.12" x2="501.45" y2="481.12" stroke="#EAEAEA" stroke-width="0.6"/>
<line x1="462.55" y1="443.15" x2="501.45" y2="443.15" stroke="#EAEAEA" stroke-width="0.6"/>
<line x1="462.55" y1="405.19" x2="501.45" y2="405.19" stroke="#EAEAEA" stroke-width="0.6"/>
<line x1="462.55" y1="367.22" x2="501.45" y2="367.22" stroke="#EAEAEA" stroke-width="0.6"/>
<line x1="468" y1="364.9" x2="468" y2="505.9" stroke="#E4E4E4" stroke-width="0.8"/>
<line x1="475.9" y1="364.9" x2="475.9" y2="505.9" stroke="#E4E4E4" stroke-width="0.8"/>
<line x1="483.8" y1="364.9" x2="483.8" y2="505.9" stroke="#E4E4E4" stroke-width="0.8"/>
<line x1="491.7" y1="364.9" x2="491.7" y2="505.9" stroke="#E4E4E4" stroke-width="0.8"/>
<line x1="499.59" y1="364.9" x2="499.59" y2="505.9" stroke="#E4E4E4" stroke-width="0.8"/>
<line x1="462.55" y1="500.1" x2="501.45" y2="500.1" stroke="#E4E4E4" stroke-width="0.8"/>
<line x1="462.55" y1="462.14" x2="501.45" y2="462.14" stroke="#E4E4E4" stroke-width="0.8"/>
<line x1="462.55" y1="424.17" x2="501.45" y2="424.17" stroke="#E4E4E4" stroke-width="0.8"/>
<line x1="462.55" y1="386.21" x2="501.45" y2="386.21" stroke="#E4E4E4" stroke-width="0.8"/>
<line x1="469.97" y1="500.1" x2="497.62" y2="500.1" stroke="#444444" stroke-width="0.8"/>
<rect x="466.03" y="453.02" width="3.95" height="47.08" fill="#939393" stroke="#1a1a1a" stroke-width="0.7"/>
<line x1="462.55" y1="364.9" x2="501.45" y2="364.9" stroke="#8a8a8a" stroke-width="0.8"/>
<line x1="462.55" y1="364.9" x2="462.55" y2="505.9" stroke="#8a8a8a" stroke-width="0.8"/>
<line x1="462.15" y1="505.9" x2="501.85" y2="505.9" stroke="#222222" stroke-width="0.8"/>
<line x1="501.45" y1="364.5" x2="501.45" y2="505.9" stroke="#222222" stroke-width="0.8"/>
<line x1="501.45" y1="500.1" x2="503.05" y2="500.1" stroke="#222222" stroke-width="0.75"/>
<text x="504.65" y="502.55" font-size="6" text-anchor="start" font-weight="normal" fill="#2e2e2e" stroke="#2e2e2e" stroke-width="0.3">0</text>
<line x1="501.45" y1="462.14" x2="503.05" y2="462.14" stroke="#222222" stroke-width="0.75"/>
<text x="504.65" y="464.59" font-size="6" text-anchor="start" font-weight="normal" fill="#2e2e2e" stroke="#2e2e2e" stroke-width="0.3">50</text>
<line x1="501.45" y1="424.17" x2="503.05" y2="424.17" stroke="#222222" stroke-width="0.75"/>
<text x="504.65" y="426.62" font-size="6" text-anchor="start" font-weight="normal" fill="#2e2e2e" stroke="#2e2e2e" stroke-width="0.3">100</text>
<line x1="501.45" y1="386.21" x2="503.05" y2="386.21" stroke="#222222" stroke-width="0.75"/>
<text x="504.65" y="388.66" font-size="6" text-anchor="start" font-weight="normal" fill="#2e2e2e" stroke="#2e2e2e" stroke-width="0.3">150</text>
<line x1="468" y1="505.9" x2="468" y2="507.5" stroke="#222222" stroke-width="0.75"/>
<text x="468" y="514.7" font-size="6" text-anchor="middle" font-weight="normal" fill="#2e2e2e" stroke="#2e2e2e" stroke-width="0.3">0</text>
<line x1="475.9" y1="505.9" x2="475.9" y2="507.5" stroke="#222222" stroke-width="0.75"/>
<text x="475.9" y="514.7" font-size="6" text-anchor="middle" font-weight="normal" fill="#2e2e2e" stroke="#2e2e2e" stroke-width="0.3">2</text>
<line x1="483.8" y1="505.9" x2="483.8" y2="507.5" stroke="#222222" stroke-width="0.75"/>
<text x="483.8" y="514.7" font-size="6" text-anchor="middle" font-weight="normal" fill="#2e2e2e" stroke="#2e2e2e" stroke-width="0.3">4</text>
<line x1="491.7" y1="505.9" x2="491.7" y2="507.5" stroke="#222222" stroke-width="0.75"/>
<text x="491.7" y="514.7" font-size="6" text-anchor="middle" font-weight="normal" fill="#2e2e2e" stroke="#2e2e2e" stroke-width="0.3">6</text>
<line x1="499.59" y1="505.9" x2="499.59" y2="507.5" stroke="#222222" stroke-width="0.75"/>
<text x="499.59" y="514.7" font-size="6" text-anchor="middle" font-weight="normal" fill="#2e2e2e" stroke="#2e2e2e" stroke-width="0.3">8</text>
<text x="482" y="361.3" font-size="7.6" text-anchor="middle" font-weight="bold" fill="#000" stroke="#000" stroke-width="0.2">No drivers</text>
<text x="244.2" y="528.5" font-size="8.25" text-anchor="middle" font-weight="bold" fill="#000" stroke="#000" stroke-width="0.2">Number of mutations</text>
</svg>
</body></html>
